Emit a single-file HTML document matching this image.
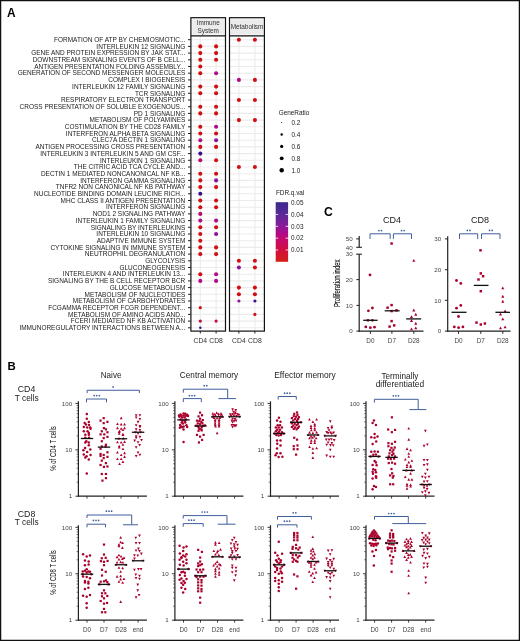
<!DOCTYPE html>
<html><head><meta charset="utf-8"><style>
html,body{margin:0;padding:0;background:#fff;}
svg{display:block;will-change:transform;}
text{font-family:"Liberation Sans", sans-serif;}
</style></head><body>
<svg width="520" height="641" viewBox="0 0 520 641">
<rect x="0" y="0" width="520" height="641" fill="#fff"/>
<text x="7.00" y="17.30" font-size="11.9" text-anchor="start" fill="#000" font-weight="bold" >A</text>
<rect x="190.90" y="35.80" width="34.60" height="295.30" fill="#fff" stroke="none" stroke-width="1" />
<line x1="190.90" y1="39.70" x2="225.50" y2="39.70" stroke="#ebebeb" stroke-width="1.1" />
<line x1="190.90" y1="46.40" x2="225.50" y2="46.40" stroke="#ebebeb" stroke-width="1.1" />
<line x1="190.90" y1="53.10" x2="225.50" y2="53.10" stroke="#ebebeb" stroke-width="1.1" />
<line x1="190.90" y1="59.80" x2="225.50" y2="59.80" stroke="#ebebeb" stroke-width="1.1" />
<line x1="190.90" y1="66.50" x2="225.50" y2="66.50" stroke="#ebebeb" stroke-width="1.1" />
<line x1="190.90" y1="73.20" x2="225.50" y2="73.20" stroke="#ebebeb" stroke-width="1.1" />
<line x1="190.90" y1="79.90" x2="225.50" y2="79.90" stroke="#ebebeb" stroke-width="1.1" />
<line x1="190.90" y1="86.60" x2="225.50" y2="86.60" stroke="#ebebeb" stroke-width="1.1" />
<line x1="190.90" y1="93.30" x2="225.50" y2="93.30" stroke="#ebebeb" stroke-width="1.1" />
<line x1="190.90" y1="100.00" x2="225.50" y2="100.00" stroke="#ebebeb" stroke-width="1.1" />
<line x1="190.90" y1="106.70" x2="225.50" y2="106.70" stroke="#ebebeb" stroke-width="1.1" />
<line x1="190.90" y1="113.40" x2="225.50" y2="113.40" stroke="#ebebeb" stroke-width="1.1" />
<line x1="190.90" y1="120.10" x2="225.50" y2="120.10" stroke="#ebebeb" stroke-width="1.1" />
<line x1="190.90" y1="126.80" x2="225.50" y2="126.80" stroke="#ebebeb" stroke-width="1.1" />
<line x1="190.90" y1="133.50" x2="225.50" y2="133.50" stroke="#ebebeb" stroke-width="1.1" />
<line x1="190.90" y1="140.20" x2="225.50" y2="140.20" stroke="#ebebeb" stroke-width="1.1" />
<line x1="190.90" y1="146.90" x2="225.50" y2="146.90" stroke="#ebebeb" stroke-width="1.1" />
<line x1="190.90" y1="153.60" x2="225.50" y2="153.60" stroke="#ebebeb" stroke-width="1.1" />
<line x1="190.90" y1="160.30" x2="225.50" y2="160.30" stroke="#ebebeb" stroke-width="1.1" />
<line x1="190.90" y1="167.00" x2="225.50" y2="167.00" stroke="#ebebeb" stroke-width="1.1" />
<line x1="190.90" y1="173.70" x2="225.50" y2="173.70" stroke="#ebebeb" stroke-width="1.1" />
<line x1="190.90" y1="180.40" x2="225.50" y2="180.40" stroke="#ebebeb" stroke-width="1.1" />
<line x1="190.90" y1="187.10" x2="225.50" y2="187.10" stroke="#ebebeb" stroke-width="1.1" />
<line x1="190.90" y1="193.80" x2="225.50" y2="193.80" stroke="#ebebeb" stroke-width="1.1" />
<line x1="190.90" y1="200.50" x2="225.50" y2="200.50" stroke="#ebebeb" stroke-width="1.1" />
<line x1="190.90" y1="207.20" x2="225.50" y2="207.20" stroke="#ebebeb" stroke-width="1.1" />
<line x1="190.90" y1="213.90" x2="225.50" y2="213.90" stroke="#ebebeb" stroke-width="1.1" />
<line x1="190.90" y1="220.60" x2="225.50" y2="220.60" stroke="#ebebeb" stroke-width="1.1" />
<line x1="190.90" y1="227.30" x2="225.50" y2="227.30" stroke="#ebebeb" stroke-width="1.1" />
<line x1="190.90" y1="234.00" x2="225.50" y2="234.00" stroke="#ebebeb" stroke-width="1.1" />
<line x1="190.90" y1="240.70" x2="225.50" y2="240.70" stroke="#ebebeb" stroke-width="1.1" />
<line x1="190.90" y1="247.40" x2="225.50" y2="247.40" stroke="#ebebeb" stroke-width="1.1" />
<line x1="190.90" y1="254.10" x2="225.50" y2="254.10" stroke="#ebebeb" stroke-width="1.1" />
<line x1="190.90" y1="260.80" x2="225.50" y2="260.80" stroke="#ebebeb" stroke-width="1.1" />
<line x1="190.90" y1="267.50" x2="225.50" y2="267.50" stroke="#ebebeb" stroke-width="1.1" />
<line x1="190.90" y1="274.20" x2="225.50" y2="274.20" stroke="#ebebeb" stroke-width="1.1" />
<line x1="190.90" y1="280.90" x2="225.50" y2="280.90" stroke="#ebebeb" stroke-width="1.1" />
<line x1="190.90" y1="287.60" x2="225.50" y2="287.60" stroke="#ebebeb" stroke-width="1.1" />
<line x1="190.90" y1="294.30" x2="225.50" y2="294.30" stroke="#ebebeb" stroke-width="1.1" />
<line x1="190.90" y1="301.00" x2="225.50" y2="301.00" stroke="#ebebeb" stroke-width="1.1" />
<line x1="190.90" y1="307.70" x2="225.50" y2="307.70" stroke="#ebebeb" stroke-width="1.1" />
<line x1="190.90" y1="314.40" x2="225.50" y2="314.40" stroke="#ebebeb" stroke-width="1.1" />
<line x1="190.90" y1="321.10" x2="225.50" y2="321.10" stroke="#ebebeb" stroke-width="1.1" />
<line x1="190.90" y1="327.80" x2="225.50" y2="327.80" stroke="#ebebeb" stroke-width="1.1" />
<line x1="200.30" y1="35.80" x2="200.30" y2="331.10" stroke="#ebebeb" stroke-width="1.1" />
<line x1="216.10" y1="35.80" x2="216.10" y2="331.10" stroke="#ebebeb" stroke-width="1.1" />
<rect x="229.50" y="35.80" width="34.90" height="295.30" fill="#fff" stroke="none" stroke-width="1" />
<line x1="229.50" y1="39.70" x2="264.40" y2="39.70" stroke="#ebebeb" stroke-width="1.1" />
<line x1="229.50" y1="46.40" x2="264.40" y2="46.40" stroke="#ebebeb" stroke-width="1.1" />
<line x1="229.50" y1="53.10" x2="264.40" y2="53.10" stroke="#ebebeb" stroke-width="1.1" />
<line x1="229.50" y1="59.80" x2="264.40" y2="59.80" stroke="#ebebeb" stroke-width="1.1" />
<line x1="229.50" y1="66.50" x2="264.40" y2="66.50" stroke="#ebebeb" stroke-width="1.1" />
<line x1="229.50" y1="73.20" x2="264.40" y2="73.20" stroke="#ebebeb" stroke-width="1.1" />
<line x1="229.50" y1="79.90" x2="264.40" y2="79.90" stroke="#ebebeb" stroke-width="1.1" />
<line x1="229.50" y1="86.60" x2="264.40" y2="86.60" stroke="#ebebeb" stroke-width="1.1" />
<line x1="229.50" y1="93.30" x2="264.40" y2="93.30" stroke="#ebebeb" stroke-width="1.1" />
<line x1="229.50" y1="100.00" x2="264.40" y2="100.00" stroke="#ebebeb" stroke-width="1.1" />
<line x1="229.50" y1="106.70" x2="264.40" y2="106.70" stroke="#ebebeb" stroke-width="1.1" />
<line x1="229.50" y1="113.40" x2="264.40" y2="113.40" stroke="#ebebeb" stroke-width="1.1" />
<line x1="229.50" y1="120.10" x2="264.40" y2="120.10" stroke="#ebebeb" stroke-width="1.1" />
<line x1="229.50" y1="126.80" x2="264.40" y2="126.80" stroke="#ebebeb" stroke-width="1.1" />
<line x1="229.50" y1="133.50" x2="264.40" y2="133.50" stroke="#ebebeb" stroke-width="1.1" />
<line x1="229.50" y1="140.20" x2="264.40" y2="140.20" stroke="#ebebeb" stroke-width="1.1" />
<line x1="229.50" y1="146.90" x2="264.40" y2="146.90" stroke="#ebebeb" stroke-width="1.1" />
<line x1="229.50" y1="153.60" x2="264.40" y2="153.60" stroke="#ebebeb" stroke-width="1.1" />
<line x1="229.50" y1="160.30" x2="264.40" y2="160.30" stroke="#ebebeb" stroke-width="1.1" />
<line x1="229.50" y1="167.00" x2="264.40" y2="167.00" stroke="#ebebeb" stroke-width="1.1" />
<line x1="229.50" y1="173.70" x2="264.40" y2="173.70" stroke="#ebebeb" stroke-width="1.1" />
<line x1="229.50" y1="180.40" x2="264.40" y2="180.40" stroke="#ebebeb" stroke-width="1.1" />
<line x1="229.50" y1="187.10" x2="264.40" y2="187.10" stroke="#ebebeb" stroke-width="1.1" />
<line x1="229.50" y1="193.80" x2="264.40" y2="193.80" stroke="#ebebeb" stroke-width="1.1" />
<line x1="229.50" y1="200.50" x2="264.40" y2="200.50" stroke="#ebebeb" stroke-width="1.1" />
<line x1="229.50" y1="207.20" x2="264.40" y2="207.20" stroke="#ebebeb" stroke-width="1.1" />
<line x1="229.50" y1="213.90" x2="264.40" y2="213.90" stroke="#ebebeb" stroke-width="1.1" />
<line x1="229.50" y1="220.60" x2="264.40" y2="220.60" stroke="#ebebeb" stroke-width="1.1" />
<line x1="229.50" y1="227.30" x2="264.40" y2="227.30" stroke="#ebebeb" stroke-width="1.1" />
<line x1="229.50" y1="234.00" x2="264.40" y2="234.00" stroke="#ebebeb" stroke-width="1.1" />
<line x1="229.50" y1="240.70" x2="264.40" y2="240.70" stroke="#ebebeb" stroke-width="1.1" />
<line x1="229.50" y1="247.40" x2="264.40" y2="247.40" stroke="#ebebeb" stroke-width="1.1" />
<line x1="229.50" y1="254.10" x2="264.40" y2="254.10" stroke="#ebebeb" stroke-width="1.1" />
<line x1="229.50" y1="260.80" x2="264.40" y2="260.80" stroke="#ebebeb" stroke-width="1.1" />
<line x1="229.50" y1="267.50" x2="264.40" y2="267.50" stroke="#ebebeb" stroke-width="1.1" />
<line x1="229.50" y1="274.20" x2="264.40" y2="274.20" stroke="#ebebeb" stroke-width="1.1" />
<line x1="229.50" y1="280.90" x2="264.40" y2="280.90" stroke="#ebebeb" stroke-width="1.1" />
<line x1="229.50" y1="287.60" x2="264.40" y2="287.60" stroke="#ebebeb" stroke-width="1.1" />
<line x1="229.50" y1="294.30" x2="264.40" y2="294.30" stroke="#ebebeb" stroke-width="1.1" />
<line x1="229.50" y1="301.00" x2="264.40" y2="301.00" stroke="#ebebeb" stroke-width="1.1" />
<line x1="229.50" y1="307.70" x2="264.40" y2="307.70" stroke="#ebebeb" stroke-width="1.1" />
<line x1="229.50" y1="314.40" x2="264.40" y2="314.40" stroke="#ebebeb" stroke-width="1.1" />
<line x1="229.50" y1="321.10" x2="264.40" y2="321.10" stroke="#ebebeb" stroke-width="1.1" />
<line x1="229.50" y1="327.80" x2="264.40" y2="327.80" stroke="#ebebeb" stroke-width="1.1" />
<line x1="238.90" y1="35.80" x2="238.90" y2="331.10" stroke="#ebebeb" stroke-width="1.1" />
<line x1="254.90" y1="35.80" x2="254.90" y2="331.10" stroke="#ebebeb" stroke-width="1.1" />
<circle cx="238.90" cy="39.70" r="2.05" fill="#cf0f12"/>
<circle cx="254.90" cy="39.70" r="2.05" fill="#cf0f12"/>
<circle cx="200.30" cy="46.40" r="2.05" fill="#cf0f12"/>
<circle cx="216.10" cy="46.40" r="2.05" fill="#cf0f12"/>
<circle cx="200.30" cy="53.10" r="2.05" fill="#cf0f12"/>
<circle cx="216.10" cy="53.10" r="2.05" fill="#cf0f12"/>
<circle cx="200.30" cy="59.80" r="2.05" fill="#cf0f12"/>
<circle cx="216.10" cy="59.80" r="2.05" fill="#cf0f12"/>
<circle cx="200.30" cy="66.50" r="2.05" fill="#cf0f12"/>
<circle cx="200.30" cy="73.20" r="2.05" fill="#cf0f12"/>
<circle cx="216.10" cy="73.20" r="2.05" fill="#b00c88"/>
<circle cx="238.90" cy="79.90" r="2.05" fill="#b00c88"/>
<circle cx="254.90" cy="79.90" r="2.05" fill="#cf0f12"/>
<circle cx="200.30" cy="86.60" r="2.05" fill="#cf0f12"/>
<circle cx="216.10" cy="86.60" r="2.05" fill="#cf0f12"/>
<circle cx="200.30" cy="93.30" r="2.05" fill="#cf0f12"/>
<circle cx="216.10" cy="93.30" r="2.05" fill="#cf0f12"/>
<circle cx="238.90" cy="100.00" r="2.05" fill="#cf0f12"/>
<circle cx="254.90" cy="100.00" r="2.05" fill="#cf0f12"/>
<circle cx="200.30" cy="106.70" r="2.05" fill="#cf0f12"/>
<circle cx="216.10" cy="106.70" r="2.05" fill="#cf0f12"/>
<circle cx="200.30" cy="113.40" r="2.05" fill="#cf0f12"/>
<circle cx="216.10" cy="113.40" r="2.05" fill="#cf0f12"/>
<circle cx="238.90" cy="120.10" r="2.05" fill="#cf0f12"/>
<circle cx="254.90" cy="120.10" r="2.05" fill="#cf0f12"/>
<circle cx="200.30" cy="126.80" r="2.05" fill="#cf0f12"/>
<circle cx="216.10" cy="126.80" r="2.05" fill="#b00c88"/>
<circle cx="200.30" cy="133.50" r="2.05" fill="#cf0f12"/>
<circle cx="216.10" cy="133.50" r="2.05" fill="#cf0f12"/>
<circle cx="200.30" cy="140.20" r="2.05" fill="#b00c88"/>
<circle cx="216.10" cy="140.20" r="2.05" fill="#8c1496"/>
<circle cx="200.30" cy="146.90" r="2.05" fill="#cf0f12"/>
<circle cx="216.10" cy="146.90" r="2.05" fill="#cf0f12"/>
<circle cx="200.30" cy="153.60" r="2.05" fill="#3a1088"/>
<circle cx="200.30" cy="160.30" r="2.05" fill="#b80c70"/>
<circle cx="216.10" cy="160.30" r="2.05" fill="#cf0f12"/>
<circle cx="238.90" cy="167.00" r="2.05" fill="#cf0f12"/>
<circle cx="254.90" cy="167.00" r="2.05" fill="#cf0f12"/>
<circle cx="200.30" cy="173.70" r="2.05" fill="#cf0f12"/>
<circle cx="216.10" cy="173.70" r="2.05" fill="#cf0f12"/>
<circle cx="200.30" cy="180.40" r="2.05" fill="#cf0f12"/>
<circle cx="216.10" cy="180.40" r="2.05" fill="#8c1496"/>
<circle cx="200.30" cy="187.10" r="2.05" fill="#cf0f12"/>
<circle cx="216.10" cy="187.10" r="2.05" fill="#cf0f12"/>
<circle cx="200.30" cy="193.80" r="2.05" fill="#3a1088"/>
<circle cx="200.30" cy="200.50" r="2.05" fill="#cf0f12"/>
<circle cx="216.10" cy="200.50" r="2.05" fill="#cf0f12"/>
<circle cx="200.30" cy="207.20" r="2.05" fill="#cf0f12"/>
<circle cx="216.10" cy="207.20" r="2.05" fill="#cf0f12"/>
<circle cx="200.30" cy="213.90" r="2.05" fill="#b80c70"/>
<circle cx="200.30" cy="220.60" r="2.05" fill="#b00c88"/>
<circle cx="216.10" cy="220.60" r="2.05" fill="#b00c88"/>
<circle cx="200.30" cy="227.30" r="2.05" fill="#cf0f12"/>
<circle cx="216.10" cy="227.30" r="2.05" fill="#cf0f12"/>
<circle cx="200.30" cy="234.00" r="2.05" fill="#cf0f12"/>
<circle cx="216.10" cy="234.00" r="2.05" fill="#8c1496"/>
<circle cx="200.30" cy="240.70" r="2.05" fill="#cf0f12"/>
<circle cx="200.30" cy="247.40" r="2.05" fill="#cf0f12"/>
<circle cx="216.10" cy="247.40" r="2.05" fill="#cf0f12"/>
<circle cx="200.30" cy="254.10" r="2.05" fill="#cf0f12"/>
<circle cx="216.10" cy="254.10" r="2.05" fill="#cf0f12"/>
<circle cx="238.90" cy="260.80" r="2.05" fill="#cf0f12"/>
<circle cx="254.90" cy="260.80" r="2.05" fill="#cf0f12"/>
<circle cx="238.90" cy="267.50" r="2.05" fill="#8c1496"/>
<circle cx="254.90" cy="267.50" r="2.05" fill="#cf0f12"/>
<circle cx="200.30" cy="274.20" r="2.05" fill="#cf0f12"/>
<circle cx="216.10" cy="274.20" r="2.05" fill="#b00c88"/>
<circle cx="200.30" cy="280.90" r="2.05" fill="#b00c88"/>
<circle cx="216.10" cy="280.90" r="2.05" fill="#b00c88"/>
<circle cx="238.90" cy="287.60" r="2.05" fill="#cf0f12"/>
<circle cx="254.90" cy="287.60" r="2.05" fill="#cf0f12"/>
<circle cx="238.90" cy="294.30" r="2.05" fill="#cf0f12"/>
<circle cx="254.90" cy="294.30" r="2.05" fill="#cf0f12"/>
<circle cx="238.90" cy="301.00" r="1.60" fill="#8c1496"/>
<circle cx="254.90" cy="301.00" r="1.60" fill="#3a1088"/>
<circle cx="200.30" cy="307.70" r="1.60" fill="#cf0f12"/>
<circle cx="254.90" cy="314.40" r="1.60" fill="#cf0f12"/>
<circle cx="200.30" cy="321.10" r="1.60" fill="#c40c3c"/>
<circle cx="216.10" cy="321.10" r="1.60" fill="#c40c3c"/>
<circle cx="200.30" cy="327.80" r="1.25" fill="#3a1088"/>
<rect x="190.90" y="17.70" width="34.60" height="18.10" fill="#fafafa" stroke="none" stroke-width="1" />
<rect x="192.40" y="19.30" width="31.60" height="15.10" fill="#ebebeb" stroke="none" stroke-width="1" />
<rect x="190.90" y="17.70" width="34.60" height="313.40" fill="none" stroke="#111" stroke-width="1.2" />
<line x1="190.90" y1="35.80" x2="225.50" y2="35.80" stroke="#111" stroke-width="1.2" />
<rect x="229.50" y="17.70" width="34.90" height="18.10" fill="#fafafa" stroke="none" stroke-width="1" />
<rect x="231.00" y="19.30" width="31.90" height="15.10" fill="#ebebeb" stroke="none" stroke-width="1" />
<rect x="229.50" y="17.70" width="34.90" height="313.40" fill="none" stroke="#111" stroke-width="1.2" />
<line x1="229.50" y1="35.80" x2="264.40" y2="35.80" stroke="#111" stroke-width="1.2" />
<text x="208.20" y="24.60" font-size="6.4" text-anchor="middle" fill="#333" >Immune</text>
<text x="208.20" y="33.00" font-size="6.4" text-anchor="middle" fill="#333" >System</text>
<text x="247.00" y="28.80" font-size="6.4" text-anchor="middle" fill="#333" >Metabolism</text>
<text x="185.30" y="41.90" font-size="7.2" text-anchor="end" fill="#1a1a1a" textLength="131.29" lengthAdjust="spacingAndGlyphs" >FORMATION OF ATP BY CHEMIOSMOTIC...</text>
<line x1="188.00" y1="39.70" x2="190.90" y2="39.70" stroke="#222" stroke-width="1.0" />
<text x="185.30" y="48.60" font-size="7.2" text-anchor="end" fill="#1a1a1a" textLength="88.95" lengthAdjust="spacingAndGlyphs" >INTERLEUKIN 12 SIGNALING</text>
<line x1="188.00" y1="46.40" x2="190.90" y2="46.40" stroke="#222" stroke-width="1.0" />
<text x="185.30" y="55.30" font-size="7.2" text-anchor="end" fill="#1a1a1a" textLength="154.12" lengthAdjust="spacingAndGlyphs" >GENE AND PROTEIN EXPRESSION BY JAK STAT...</text>
<line x1="188.00" y1="53.10" x2="190.90" y2="53.10" stroke="#222" stroke-width="1.0" />
<text x="185.30" y="62.00" font-size="7.2" text-anchor="end" fill="#1a1a1a" textLength="152.67" lengthAdjust="spacingAndGlyphs" >DOWNSTREAM SIGNALING EVENTS OF B CELL...</text>
<line x1="188.00" y1="59.80" x2="190.90" y2="59.80" stroke="#222" stroke-width="1.0" />
<text x="185.30" y="68.70" font-size="7.2" text-anchor="end" fill="#1a1a1a" textLength="151.12" lengthAdjust="spacingAndGlyphs" >ANTIGEN PRESENTATION FOLDING ASSEMBLY...</text>
<line x1="188.00" y1="66.50" x2="190.90" y2="66.50" stroke="#222" stroke-width="1.0" />
<text x="185.30" y="75.40" font-size="7.2" text-anchor="end" fill="#1a1a1a" textLength="167.67" lengthAdjust="spacingAndGlyphs" >GENERATION OF SECOND MESSENGER MOLECULES</text>
<line x1="188.00" y1="73.20" x2="190.90" y2="73.20" stroke="#222" stroke-width="1.0" />
<text x="185.30" y="82.10" font-size="7.2" text-anchor="end" fill="#1a1a1a" textLength="77.06" lengthAdjust="spacingAndGlyphs" >COMPLEX I BIOGENESIS</text>
<line x1="188.00" y1="79.90" x2="190.90" y2="79.90" stroke="#222" stroke-width="1.0" />
<text x="185.30" y="88.80" font-size="7.2" text-anchor="end" fill="#1a1a1a" textLength="113.20" lengthAdjust="spacingAndGlyphs" >INTERLEUKIN 12 FAMILY SIGNALING</text>
<line x1="188.00" y1="86.60" x2="190.90" y2="86.60" stroke="#222" stroke-width="1.0" />
<text x="185.30" y="95.50" font-size="7.2" text-anchor="end" fill="#1a1a1a" textLength="50.41" lengthAdjust="spacingAndGlyphs" >TCR SIGNALING</text>
<line x1="188.00" y1="93.30" x2="190.90" y2="93.30" stroke="#222" stroke-width="1.0" />
<text x="185.30" y="102.20" font-size="7.2" text-anchor="end" fill="#1a1a1a" textLength="124.23" lengthAdjust="spacingAndGlyphs" >RESPIRATORY ELECTRON TRANSPORT</text>
<line x1="188.00" y1="100.00" x2="190.90" y2="100.00" stroke="#222" stroke-width="1.0" />
<text x="185.30" y="108.90" font-size="7.2" text-anchor="end" fill="#1a1a1a" textLength="165.76" lengthAdjust="spacingAndGlyphs" >CROSS PRESENTATION OF SOLUBLE EXOGENOUS...</text>
<line x1="188.00" y1="106.70" x2="190.90" y2="106.70" stroke="#222" stroke-width="1.0" />
<text x="185.30" y="115.60" font-size="7.2" text-anchor="end" fill="#1a1a1a" textLength="51.50" lengthAdjust="spacingAndGlyphs" >PD 1 SIGNALING</text>
<line x1="188.00" y1="113.40" x2="190.90" y2="113.40" stroke="#222" stroke-width="1.0" />
<text x="185.30" y="122.30" font-size="7.2" text-anchor="end" fill="#1a1a1a" textLength="95.78" lengthAdjust="spacingAndGlyphs" >METABOLISM OF POLYAMINES</text>
<line x1="188.00" y1="120.10" x2="190.90" y2="120.10" stroke="#222" stroke-width="1.0" />
<text x="185.30" y="129.00" font-size="7.2" text-anchor="end" fill="#1a1a1a" textLength="120.51" lengthAdjust="spacingAndGlyphs" >COSTIMULATION BY THE CD28 FAMILY</text>
<line x1="188.00" y1="126.80" x2="190.90" y2="126.80" stroke="#222" stroke-width="1.0" />
<text x="185.30" y="135.70" font-size="7.2" text-anchor="end" fill="#1a1a1a" textLength="119.43" lengthAdjust="spacingAndGlyphs" >INTERFERON ALPHA BETA SIGNALING</text>
<line x1="188.00" y1="133.50" x2="190.90" y2="133.50" stroke="#222" stroke-width="1.0" />
<text x="185.30" y="142.40" font-size="7.2" text-anchor="end" fill="#1a1a1a" textLength="93.27" lengthAdjust="spacingAndGlyphs" >CLEC7A DECTIN 1 SIGNALING</text>
<line x1="188.00" y1="140.20" x2="190.90" y2="140.20" stroke="#222" stroke-width="1.0" />
<text x="185.30" y="149.10" font-size="7.2" text-anchor="end" fill="#1a1a1a" textLength="149.90" lengthAdjust="spacingAndGlyphs" >ANTIGEN PROCESSING CROSS PRESENTATION</text>
<line x1="188.00" y1="146.90" x2="190.90" y2="146.90" stroke="#222" stroke-width="1.0" />
<text x="185.30" y="155.80" font-size="7.2" text-anchor="end" fill="#1a1a1a" textLength="145.11" lengthAdjust="spacingAndGlyphs" >INTERLEUKIN 3 INTERLEUKIN 5 AND GM CSF...</text>
<line x1="188.00" y1="153.60" x2="190.90" y2="153.60" stroke="#222" stroke-width="1.0" />
<text x="185.30" y="162.50" font-size="7.2" text-anchor="end" fill="#1a1a1a" textLength="85.34" lengthAdjust="spacingAndGlyphs" >INTERLEUKIN 1 SIGNALING</text>
<line x1="188.00" y1="160.30" x2="190.90" y2="160.30" stroke="#222" stroke-width="1.0" />
<text x="185.30" y="169.20" font-size="7.2" text-anchor="end" fill="#1a1a1a" textLength="111.50" lengthAdjust="spacingAndGlyphs" >THE CITRIC ACID TCA CYCLE AND...</text>
<line x1="188.00" y1="167.00" x2="190.90" y2="167.00" stroke="#222" stroke-width="1.0" />
<text x="185.30" y="175.90" font-size="7.2" text-anchor="end" fill="#1a1a1a" textLength="144.38" lengthAdjust="spacingAndGlyphs" >DECTIN 1 MEDIATED NONCANONICAL NF KB...</text>
<line x1="188.00" y1="173.70" x2="190.90" y2="173.70" stroke="#222" stroke-width="1.0" />
<text x="185.30" y="182.60" font-size="7.2" text-anchor="end" fill="#1a1a1a" textLength="105.13" lengthAdjust="spacingAndGlyphs" >INTERFERON GAMMA SIGNALING</text>
<line x1="188.00" y1="180.40" x2="190.90" y2="180.40" stroke="#222" stroke-width="1.0" />
<text x="185.30" y="189.30" font-size="7.2" text-anchor="end" fill="#1a1a1a" textLength="129.49" lengthAdjust="spacingAndGlyphs" >TNFR2 NON CANONICAL NF KB PATHWAY</text>
<line x1="188.00" y1="187.10" x2="190.90" y2="187.10" stroke="#222" stroke-width="1.0" />
<text x="185.30" y="196.00" font-size="7.2" text-anchor="end" fill="#1a1a1a" textLength="151.22" lengthAdjust="spacingAndGlyphs" >NUCLEOTIDE BINDING DOMAIN LEUCINE RICH...</text>
<line x1="188.00" y1="193.80" x2="190.90" y2="193.80" stroke="#222" stroke-width="1.0" />
<text x="185.30" y="202.70" font-size="7.2" text-anchor="end" fill="#1a1a1a" textLength="124.70" lengthAdjust="spacingAndGlyphs" >MHC CLASS II ANTIGEN PRESENTATION</text>
<line x1="188.00" y1="200.50" x2="190.90" y2="200.50" stroke="#222" stroke-width="1.0" />
<text x="185.30" y="209.40" font-size="7.2" text-anchor="end" fill="#1a1a1a" textLength="79.21" lengthAdjust="spacingAndGlyphs" >INTERFERON SIGNALING</text>
<line x1="188.00" y1="207.20" x2="190.90" y2="207.20" stroke="#222" stroke-width="1.0" />
<text x="185.30" y="216.10" font-size="7.2" text-anchor="end" fill="#1a1a1a" textLength="92.66" lengthAdjust="spacingAndGlyphs" >NOD1 2 SIGNALING PATHWAY</text>
<line x1="188.00" y1="213.90" x2="190.90" y2="213.90" stroke="#222" stroke-width="1.0" />
<text x="185.30" y="222.80" font-size="7.2" text-anchor="end" fill="#1a1a1a" textLength="109.59" lengthAdjust="spacingAndGlyphs" >INTERLEUKIN 1 FAMILY SIGNALING</text>
<line x1="188.00" y1="220.60" x2="190.90" y2="220.60" stroke="#222" stroke-width="1.0" />
<text x="185.30" y="229.50" font-size="7.2" text-anchor="end" fill="#1a1a1a" textLength="94.59" lengthAdjust="spacingAndGlyphs" >SIGNALING BY INTERLEUKINS</text>
<line x1="188.00" y1="227.30" x2="190.90" y2="227.30" stroke="#222" stroke-width="1.0" />
<text x="185.30" y="236.20" font-size="7.2" text-anchor="end" fill="#1a1a1a" textLength="88.95" lengthAdjust="spacingAndGlyphs" >INTERLEUKIN 10 SIGNALING</text>
<line x1="188.00" y1="234.00" x2="190.90" y2="234.00" stroke="#222" stroke-width="1.0" />
<text x="185.30" y="242.90" font-size="7.2" text-anchor="end" fill="#1a1a1a" textLength="88.58" lengthAdjust="spacingAndGlyphs" >ADAPTIVE IMMUNE SYSTEM</text>
<line x1="188.00" y1="240.70" x2="190.90" y2="240.70" stroke="#222" stroke-width="1.0" />
<text x="185.30" y="249.60" font-size="7.2" text-anchor="end" fill="#1a1a1a" textLength="134.90" lengthAdjust="spacingAndGlyphs" >CYTOKINE SIGNALING IN IMMUNE SYSTEM</text>
<line x1="188.00" y1="247.40" x2="190.90" y2="247.40" stroke="#222" stroke-width="1.0" />
<text x="185.30" y="256.30" font-size="7.2" text-anchor="end" fill="#1a1a1a" textLength="100.45" lengthAdjust="spacingAndGlyphs" >NEUTROPHIL  DEGRANULATION</text>
<line x1="188.00" y1="254.10" x2="190.90" y2="254.10" stroke="#222" stroke-width="1.0" />
<text x="185.30" y="263.00" font-size="7.2" text-anchor="end" fill="#1a1a1a" textLength="40.10" lengthAdjust="spacingAndGlyphs" >GLYCOLYSIS</text>
<line x1="188.00" y1="260.80" x2="190.90" y2="260.80" stroke="#222" stroke-width="1.0" />
<text x="185.30" y="269.70" font-size="7.2" text-anchor="end" fill="#1a1a1a" textLength="65.90" lengthAdjust="spacingAndGlyphs" >GLUCONEOGENESIS</text>
<line x1="188.00" y1="267.50" x2="190.90" y2="267.50" stroke="#222" stroke-width="1.0" />
<text x="185.30" y="276.40" font-size="7.2" text-anchor="end" fill="#1a1a1a" textLength="122.44" lengthAdjust="spacingAndGlyphs" >INTERLEUKIN 4 AND INTERLEUKIN 13...</text>
<line x1="188.00" y1="274.20" x2="190.90" y2="274.20" stroke="#222" stroke-width="1.0" />
<text x="185.30" y="283.10" font-size="7.2" text-anchor="end" fill="#1a1a1a" textLength="137.32" lengthAdjust="spacingAndGlyphs" >SIGNALING BY THE B CELL RECEPTOR BCR</text>
<line x1="188.00" y1="280.90" x2="190.90" y2="280.90" stroke="#222" stroke-width="1.0" />
<text x="185.30" y="289.80" font-size="7.2" text-anchor="end" fill="#1a1a1a" textLength="75.50" lengthAdjust="spacingAndGlyphs" >GLUCOSE METABOLISM</text>
<line x1="188.00" y1="287.60" x2="190.90" y2="287.60" stroke="#222" stroke-width="1.0" />
<text x="185.30" y="296.50" font-size="7.2" text-anchor="end" fill="#1a1a1a" textLength="100.70" lengthAdjust="spacingAndGlyphs" >METABOLISM OF NUCLEOTIDES</text>
<line x1="188.00" y1="294.30" x2="190.90" y2="294.30" stroke="#222" stroke-width="1.0" />
<text x="185.30" y="303.20" font-size="7.2" text-anchor="end" fill="#1a1a1a" textLength="112.46" lengthAdjust="spacingAndGlyphs" >METABOLISM OF CARBOHYDRATES</text>
<line x1="188.00" y1="301.00" x2="190.90" y2="301.00" stroke="#222" stroke-width="1.0" />
<text x="185.30" y="309.90" font-size="7.2" text-anchor="end" fill="#1a1a1a" textLength="137.06" lengthAdjust="spacingAndGlyphs" >FCGAMMA RECEPTOR FCGR DEPENDENT...</text>
<line x1="188.00" y1="307.70" x2="190.90" y2="307.70" stroke="#222" stroke-width="1.0" />
<text x="185.30" y="316.60" font-size="7.2" text-anchor="end" fill="#1a1a1a" textLength="117.26" lengthAdjust="spacingAndGlyphs" >METABOLISM OF AMINO ACIDS AND...</text>
<line x1="188.00" y1="314.40" x2="190.90" y2="314.40" stroke="#222" stroke-width="1.0" />
<text x="185.30" y="323.30" font-size="7.2" text-anchor="end" fill="#1a1a1a" textLength="114.49" lengthAdjust="spacingAndGlyphs" >FCERI MEDIATED NF KB ACTIVATION</text>
<line x1="188.00" y1="321.10" x2="190.90" y2="321.10" stroke="#222" stroke-width="1.0" />
<text x="185.30" y="330.00" font-size="7.2" text-anchor="end" fill="#1a1a1a" textLength="165.87" lengthAdjust="spacingAndGlyphs" >IMMUNOREGULATORY INTERACTIONS BETWEEN A...</text>
<line x1="188.00" y1="327.80" x2="190.90" y2="327.80" stroke="#222" stroke-width="1.0" />
<line x1="200.30" y1="331.10" x2="200.30" y2="333.50" stroke="#222" stroke-width="1.0" />
<line x1="216.10" y1="331.10" x2="216.10" y2="333.50" stroke="#222" stroke-width="1.0" />
<line x1="238.90" y1="331.10" x2="238.90" y2="333.50" stroke="#222" stroke-width="1.0" />
<line x1="254.90" y1="331.10" x2="254.90" y2="333.50" stroke="#222" stroke-width="1.0" />
<text x="200.30" y="342.80" font-size="6.8" text-anchor="middle" fill="#333" >CD4</text>
<text x="216.10" y="342.80" font-size="6.8" text-anchor="middle" fill="#333" >CD8</text>
<text x="238.90" y="342.80" font-size="6.8" text-anchor="middle" fill="#333" >CD4</text>
<text x="254.90" y="342.80" font-size="6.8" text-anchor="middle" fill="#333" >CD8</text>
<text x="278.70" y="114.60" font-size="6.4" text-anchor="start" fill="#1a1a1a" >GeneRatio</text>
<circle cx="281.70" cy="122.50" r="0.50" fill="#000"/>
<text x="291.40" y="124.80" font-size="6.4" text-anchor="start" fill="#222" >0.2</text>
<circle cx="281.70" cy="134.45" r="1.20" fill="#000"/>
<text x="291.40" y="136.75" font-size="6.4" text-anchor="start" fill="#222" >0.4</text>
<circle cx="281.70" cy="146.40" r="1.60" fill="#000"/>
<text x="291.40" y="148.70" font-size="6.4" text-anchor="start" fill="#222" >0.6</text>
<circle cx="281.70" cy="158.35" r="1.90" fill="#000"/>
<text x="291.40" y="160.65" font-size="6.4" text-anchor="start" fill="#222" >0.8</text>
<circle cx="281.70" cy="170.30" r="2.20" fill="#000"/>
<text x="291.40" y="172.60" font-size="6.4" text-anchor="start" fill="#222" >1.0</text>
<text x="275.90" y="194.50" font-size="6.4" text-anchor="start" fill="#1a1a1a" >FDR.q.val</text>
<defs><linearGradient id="cb" x1="0" y1="0" x2="0" y2="1"><stop offset="0" stop-color="#3b2a8c"/><stop offset="0.2" stop-color="#5a2a98"/><stop offset="0.4" stop-color="#8a1a98"/><stop offset="0.52" stop-color="#b00888"/><stop offset="0.62" stop-color="#c40a6e"/><stop offset="0.8" stop-color="#d20e3e"/><stop offset="1" stop-color="#d42018"/></linearGradient></defs>
<rect x="275.70" y="202.20" width="12.40" height="59.60" fill="url(#cb)" stroke="none" stroke-width="1" />
<text x="291.00" y="204.90" font-size="6.4" text-anchor="start" fill="#222" >0.05</text>
<line x1="275.70" y1="214.45" x2="278.20" y2="214.45" stroke="#fff" stroke-width="0.8" />
<line x1="285.60" y1="214.45" x2="288.10" y2="214.45" stroke="#fff" stroke-width="0.8" />
<text x="291.00" y="216.75" font-size="6.4" text-anchor="start" fill="#222" >0.04</text>
<line x1="275.70" y1="226.30" x2="278.20" y2="226.30" stroke="#fff" stroke-width="0.8" />
<line x1="285.60" y1="226.30" x2="288.10" y2="226.30" stroke="#fff" stroke-width="0.8" />
<text x="291.00" y="228.60" font-size="6.4" text-anchor="start" fill="#222" >0.03</text>
<line x1="275.70" y1="238.15" x2="278.20" y2="238.15" stroke="#fff" stroke-width="0.8" />
<line x1="285.60" y1="238.15" x2="288.10" y2="238.15" stroke="#fff" stroke-width="0.8" />
<text x="291.00" y="240.45" font-size="6.4" text-anchor="start" fill="#222" >0.02</text>
<line x1="275.70" y1="250.00" x2="278.20" y2="250.00" stroke="#fff" stroke-width="0.8" />
<line x1="285.60" y1="250.00" x2="288.10" y2="250.00" stroke="#fff" stroke-width="0.8" />
<text x="291.00" y="252.30" font-size="6.4" text-anchor="start" fill="#222" >0.01</text>
<text x="324.00" y="216.20" font-size="12.2" text-anchor="start" fill="#000" font-weight="bold" >C</text>
<text x="391.90" y="223.20" font-size="9.0" text-anchor="middle" fill="#1a1a1a" >CD4</text>
<line x1="359.20" y1="236.10" x2="359.20" y2="247.30" stroke="#222" stroke-width="1.2" />
<line x1="356.20" y1="247.30" x2="361.90" y2="247.30" stroke="#222" stroke-width="1.1" />
<line x1="356.20" y1="238.90" x2="359.20" y2="238.90" stroke="#222" stroke-width="1.0" />
<line x1="359.20" y1="254.20" x2="359.20" y2="331.70" stroke="#222" stroke-width="1.2" />
<line x1="356.20" y1="254.20" x2="361.90" y2="254.20" stroke="#222" stroke-width="1.1" />
<text x="352.60" y="241.10" font-size="6.2" text-anchor="end" fill="#444" >50</text>
<text x="352.60" y="249.50" font-size="6.2" text-anchor="end" fill="#444" >40</text>
<text x="352.60" y="256.40" font-size="6.2" text-anchor="end" fill="#444" >30</text>
<line x1="356.40" y1="279.60" x2="359.20" y2="279.60" stroke="#222" stroke-width="1.0" />
<text x="352.60" y="281.80" font-size="6.2" text-anchor="end" fill="#444" >20</text>
<line x1="356.40" y1="305.40" x2="359.20" y2="305.40" stroke="#222" stroke-width="1.0" />
<text x="352.60" y="307.60" font-size="6.2" text-anchor="end" fill="#444" >10</text>
<line x1="356.40" y1="331.10" x2="359.20" y2="331.10" stroke="#222" stroke-width="1.0" />
<text x="352.60" y="333.30" font-size="6.2" text-anchor="end" fill="#444" >0</text>
<line x1="358.60" y1="331.10" x2="423.50" y2="331.10" stroke="#222" stroke-width="1.2" />
<line x1="370.40" y1="331.10" x2="370.40" y2="333.80" stroke="#222" stroke-width="1.0" />
<text x="370.40" y="343.40" font-size="6.4" text-anchor="middle" fill="#444" >D0</text>
<line x1="391.90" y1="331.10" x2="391.90" y2="333.80" stroke="#222" stroke-width="1.0" />
<text x="391.90" y="343.40" font-size="6.4" text-anchor="middle" fill="#444" >D7</text>
<line x1="413.80" y1="331.10" x2="413.80" y2="333.80" stroke="#222" stroke-width="1.0" />
<text x="413.80" y="343.40" font-size="6.4" text-anchor="middle" fill="#444" >D28</text>
<text x="0.00" y="0.00" font-size="8.8" text-anchor="middle" fill="#111" textLength="47.60" lengthAdjust="spacingAndGlyphs" stroke="#111" stroke-width="0.15" transform="translate(340.3,283.3) rotate(-90)">Proliferation index</text>
<circle cx="370.00" cy="274.90" r="1.40" fill="#aa002c"/>
<circle cx="368.40" cy="310.80" r="1.40" fill="#aa002c"/>
<circle cx="372.40" cy="308.00" r="1.40" fill="#aa002c"/>
<circle cx="368.00" cy="320.30" r="1.40" fill="#aa002c"/>
<circle cx="372.40" cy="320.30" r="1.40" fill="#aa002c"/>
<circle cx="365.80" cy="326.90" r="1.40" fill="#aa002c"/>
<circle cx="370.40" cy="327.70" r="1.40" fill="#aa002c"/>
<circle cx="374.50" cy="327.20" r="1.40" fill="#aa002c"/>
<rect x="390.37" y="242.27" width="2.46" height="2.46" fill="#aa002c"/>
<rect x="390.37" y="303.87" width="2.46" height="2.46" fill="#aa002c"/>
<rect x="386.37" y="306.47" width="2.46" height="2.46" fill="#aa002c"/>
<rect x="390.37" y="309.87" width="2.46" height="2.46" fill="#aa002c"/>
<rect x="395.27" y="309.07" width="2.46" height="2.46" fill="#aa002c"/>
<rect x="390.37" y="319.87" width="2.46" height="2.46" fill="#aa002c"/>
<rect x="388.37" y="325.37" width="2.46" height="2.46" fill="#aa002c"/>
<rect x="392.97" y="324.17" width="2.46" height="2.46" fill="#aa002c"/>
<polygon points="413.80,258.94 415.34,261.87 412.26,261.87" fill="#aa002c"/>
<polygon points="413.80,308.54 415.34,311.47 412.26,311.47" fill="#aa002c"/>
<polygon points="411.50,315.14 413.04,318.07 409.96,318.07" fill="#aa002c"/>
<polygon points="415.80,312.84 417.34,315.77 414.26,315.77" fill="#aa002c"/>
<polygon points="411.50,319.04 413.04,321.97 409.96,321.97" fill="#aa002c"/>
<polygon points="415.80,321.74 417.34,324.67 414.26,324.67" fill="#aa002c"/>
<polygon points="411.50,327.44 413.04,330.37 409.96,330.37" fill="#aa002c"/>
<polygon points="415.80,326.44 417.34,329.37 414.26,329.37" fill="#aa002c"/>
<line x1="363.20" y1="320.30" x2="377.60" y2="320.30" stroke="#111" stroke-width="1.3" />
<line x1="384.70" y1="310.80" x2="399.60" y2="310.80" stroke="#111" stroke-width="1.3" />
<line x1="406.20" y1="318.90" x2="421.20" y2="318.90" stroke="#111" stroke-width="1.3" />
<polyline points="370.00,238.90 370.00,233.80 390.20,233.80 390.20,238.90" fill="none" stroke="#3f5e9c" stroke-width="1.0"/>
<polyline points="393.40,238.90 393.40,233.80 411.50,233.80 411.50,238.90" fill="none" stroke="#3f5e9c" stroke-width="1.0"/>
<circle cx="378.90" cy="230.60" r="0.85" fill="#3f5e9c"/>
<circle cx="381.50" cy="230.60" r="0.85" fill="#3f5e9c"/>
<circle cx="401.50" cy="230.60" r="0.85" fill="#3f5e9c"/>
<circle cx="404.10" cy="230.60" r="0.85" fill="#3f5e9c"/>
<text x="480.00" y="223.30" font-size="9.0" text-anchor="middle" fill="#1a1a1a" >CD8</text>
<line x1="447.70" y1="236.30" x2="447.70" y2="331.70" stroke="#222" stroke-width="1.2" />
<line x1="444.90" y1="238.90" x2="447.70" y2="238.90" stroke="#222" stroke-width="1.0" />
<text x="441.20" y="241.10" font-size="6.2" text-anchor="end" fill="#444" >30</text>
<line x1="444.90" y1="269.70" x2="447.70" y2="269.70" stroke="#222" stroke-width="1.0" />
<text x="441.20" y="271.90" font-size="6.2" text-anchor="end" fill="#444" >20</text>
<line x1="444.90" y1="300.30" x2="447.70" y2="300.30" stroke="#222" stroke-width="1.0" />
<text x="441.20" y="302.50" font-size="6.2" text-anchor="end" fill="#444" >10</text>
<line x1="444.90" y1="331.10" x2="447.70" y2="331.10" stroke="#222" stroke-width="1.0" />
<text x="441.20" y="333.30" font-size="6.2" text-anchor="end" fill="#444" >0</text>
<line x1="447.10" y1="331.10" x2="510.50" y2="331.10" stroke="#222" stroke-width="1.2" />
<line x1="458.50" y1="331.10" x2="458.50" y2="333.80" stroke="#222" stroke-width="1.0" />
<text x="458.50" y="343.40" font-size="6.4" text-anchor="middle" fill="#444" >D0</text>
<line x1="480.80" y1="331.10" x2="480.80" y2="333.80" stroke="#222" stroke-width="1.0" />
<text x="480.80" y="343.40" font-size="6.4" text-anchor="middle" fill="#444" >D7</text>
<line x1="502.80" y1="331.10" x2="502.80" y2="333.80" stroke="#222" stroke-width="1.0" />
<text x="502.80" y="343.40" font-size="6.4" text-anchor="middle" fill="#444" >D28</text>
<circle cx="456.50" cy="280.50" r="1.40" fill="#aa002c"/>
<circle cx="460.80" cy="283.40" r="1.40" fill="#aa002c"/>
<circle cx="460.80" cy="305.40" r="1.40" fill="#aa002c"/>
<circle cx="456.50" cy="308.20" r="1.40" fill="#aa002c"/>
<circle cx="458.50" cy="316.50" r="1.40" fill="#aa002c"/>
<circle cx="454.30" cy="326.90" r="1.40" fill="#aa002c"/>
<circle cx="458.60" cy="327.70" r="1.40" fill="#aa002c"/>
<circle cx="462.90" cy="326.90" r="1.40" fill="#aa002c"/>
<rect x="479.27" y="249.07" width="2.46" height="2.46" fill="#aa002c"/>
<rect x="479.57" y="272.17" width="2.46" height="2.46" fill="#aa002c"/>
<rect x="481.87" y="274.97" width="2.46" height="2.46" fill="#aa002c"/>
<rect x="477.27" y="278.27" width="2.46" height="2.46" fill="#aa002c"/>
<rect x="479.57" y="289.97" width="2.46" height="2.46" fill="#aa002c"/>
<rect x="475.27" y="321.37" width="2.46" height="2.46" fill="#aa002c"/>
<rect x="479.57" y="323.27" width="2.46" height="2.46" fill="#aa002c"/>
<rect x="483.67" y="322.27" width="2.46" height="2.46" fill="#aa002c"/>
<polygon points="502.80,286.44 504.34,289.37 501.26,289.37" fill="#aa002c"/>
<polygon points="502.80,294.74 504.34,297.67 501.26,297.67" fill="#aa002c"/>
<polygon points="502.80,299.74 504.34,302.67 501.26,302.67" fill="#aa002c"/>
<polygon points="505.10,309.44 506.64,312.37 503.56,312.37" fill="#aa002c"/>
<polygon points="500.50,312.54 502.04,315.47 498.96,315.47" fill="#aa002c"/>
<polygon points="502.80,317.44 504.34,320.37 501.26,320.37" fill="#aa002c"/>
<polygon points="500.50,326.44 502.04,329.37 498.96,329.37" fill="#aa002c"/>
<polygon points="505.10,325.44 506.64,328.37 503.56,328.37" fill="#aa002c"/>
<line x1="451.50" y1="312.30" x2="466.50" y2="312.30" stroke="#111" stroke-width="1.3" />
<line x1="473.80" y1="285.40" x2="488.50" y2="285.40" stroke="#111" stroke-width="1.3" />
<line x1="495.40" y1="312.30" x2="510.00" y2="312.30" stroke="#111" stroke-width="1.3" />
<polyline points="459.50,238.90 459.50,233.80 477.70,233.80 477.70,238.90" fill="none" stroke="#3f5e9c" stroke-width="1.0"/>
<polyline points="481.50,238.90 481.50,233.80 500.00,233.80 500.00,238.90" fill="none" stroke="#3f5e9c" stroke-width="1.0"/>
<circle cx="467.30" cy="230.40" r="0.85" fill="#3f5e9c"/>
<circle cx="469.90" cy="230.40" r="0.85" fill="#3f5e9c"/>
<circle cx="489.50" cy="230.40" r="0.85" fill="#3f5e9c"/>
<circle cx="492.10" cy="230.40" r="0.85" fill="#3f5e9c"/>
<text x="7.60" y="370.30" font-size="11.4" text-anchor="start" fill="#000" font-weight="bold" >B</text>
<text x="111.10" y="378.40" font-size="8.4" text-anchor="middle" fill="#222" textLength="20.62" lengthAdjust="spacingAndGlyphs" >Naive</text>
<text x="209.00" y="378.40" font-size="8.4" text-anchor="middle" fill="#222" textLength="58.26" lengthAdjust="spacingAndGlyphs" >Central memory</text>
<text x="305.00" y="378.40" font-size="8.4" text-anchor="middle" fill="#222" textLength="61.46" lengthAdjust="spacingAndGlyphs" >Effector memory</text>
<text x="399.90" y="378.60" font-size="8.4" text-anchor="middle" fill="#222" textLength="37.05" lengthAdjust="spacingAndGlyphs" >Terminally</text>
<text x="399.90" y="387.00" font-size="8.4" text-anchor="middle" fill="#222" textLength="48.42" lengthAdjust="spacingAndGlyphs" >differentiated</text>
<text x="26.50" y="392.30" font-size="8.6" text-anchor="middle" fill="#1a1a1a" textLength="17.55" lengthAdjust="spacingAndGlyphs" >CD4</text>
<text x="26.70" y="400.90" font-size="8.6" text-anchor="middle" fill="#1a1a1a" textLength="23.95" lengthAdjust="spacingAndGlyphs" >T cells</text>
<text x="26.50" y="516.50" font-size="8.6" text-anchor="middle" fill="#1a1a1a" textLength="17.55" lengthAdjust="spacingAndGlyphs" >CD8</text>
<text x="26.70" y="525.10" font-size="8.6" text-anchor="middle" fill="#1a1a1a" textLength="23.95" lengthAdjust="spacingAndGlyphs" >T cells</text>
<line x1="78.40" y1="401.30" x2="78.40" y2="496.80" stroke="#222" stroke-width="1.2" />
<line x1="77.80" y1="496.20" x2="146.90" y2="496.20" stroke="#222" stroke-width="1.2" />
<line x1="75.40" y1="496.20" x2="78.40" y2="496.20" stroke="#222" stroke-width="0.9" />
<text x="72.20" y="498.40" font-size="6.2" text-anchor="end" fill="#444" >1</text>
<line x1="75.40" y1="449.80" x2="78.40" y2="449.80" stroke="#222" stroke-width="0.9" />
<text x="72.20" y="452.00" font-size="6.2" text-anchor="end" fill="#444" >10</text>
<line x1="75.40" y1="403.40" x2="78.40" y2="403.40" stroke="#222" stroke-width="0.9" />
<text x="72.20" y="405.60" font-size="6.2" text-anchor="end" fill="#444" >100</text>
<line x1="76.60" y1="482.23" x2="78.40" y2="482.23" stroke="#222" stroke-width="0.6" />
<line x1="76.60" y1="474.06" x2="78.40" y2="474.06" stroke="#222" stroke-width="0.6" />
<line x1="76.60" y1="468.26" x2="78.40" y2="468.26" stroke="#222" stroke-width="0.6" />
<line x1="76.60" y1="463.77" x2="78.40" y2="463.77" stroke="#222" stroke-width="0.6" />
<line x1="76.60" y1="460.09" x2="78.40" y2="460.09" stroke="#222" stroke-width="0.6" />
<line x1="76.60" y1="456.99" x2="78.40" y2="456.99" stroke="#222" stroke-width="0.6" />
<line x1="76.60" y1="454.30" x2="78.40" y2="454.30" stroke="#222" stroke-width="0.6" />
<line x1="76.60" y1="451.92" x2="78.40" y2="451.92" stroke="#222" stroke-width="0.6" />
<line x1="76.60" y1="435.83" x2="78.40" y2="435.83" stroke="#222" stroke-width="0.6" />
<line x1="76.60" y1="427.66" x2="78.40" y2="427.66" stroke="#222" stroke-width="0.6" />
<line x1="76.60" y1="421.86" x2="78.40" y2="421.86" stroke="#222" stroke-width="0.6" />
<line x1="76.60" y1="417.37" x2="78.40" y2="417.37" stroke="#222" stroke-width="0.6" />
<line x1="76.60" y1="413.69" x2="78.40" y2="413.69" stroke="#222" stroke-width="0.6" />
<line x1="76.60" y1="410.59" x2="78.40" y2="410.59" stroke="#222" stroke-width="0.6" />
<line x1="76.60" y1="407.90" x2="78.40" y2="407.90" stroke="#222" stroke-width="0.6" />
<line x1="76.60" y1="405.52" x2="78.40" y2="405.52" stroke="#222" stroke-width="0.6" />
<line x1="87.00" y1="496.20" x2="87.00" y2="498.60" stroke="#222" stroke-width="0.9" />
<line x1="104.00" y1="496.20" x2="104.00" y2="498.60" stroke="#222" stroke-width="0.9" />
<line x1="121.00" y1="496.20" x2="121.00" y2="498.60" stroke="#222" stroke-width="0.9" />
<line x1="138.10" y1="496.20" x2="138.10" y2="498.60" stroke="#222" stroke-width="0.9" />
<circle cx="86.81" cy="414.00" r="1.25" fill="#aa002c"/>
<circle cx="86.81" cy="418.75" r="1.25" fill="#aa002c"/>
<circle cx="88.81" cy="421.88" r="1.25" fill="#aa002c"/>
<circle cx="84.69" cy="423.12" r="1.25" fill="#aa002c"/>
<circle cx="85.94" cy="424.38" r="1.25" fill="#aa002c"/>
<circle cx="89.06" cy="425.00" r="1.25" fill="#aa002c"/>
<circle cx="83.81" cy="426.88" r="1.25" fill="#aa002c"/>
<circle cx="87.19" cy="427.50" r="1.25" fill="#aa002c"/>
<circle cx="90.31" cy="427.50" r="1.25" fill="#aa002c"/>
<circle cx="90.56" cy="428.75" r="1.25" fill="#aa002c"/>
<circle cx="83.81" cy="431.25" r="1.25" fill="#aa002c"/>
<circle cx="87.56" cy="431.25" r="1.25" fill="#aa002c"/>
<circle cx="88.81" cy="433.12" r="1.25" fill="#aa002c"/>
<circle cx="85.31" cy="434.75" r="1.25" fill="#aa002c"/>
<circle cx="88.81" cy="434.75" r="1.25" fill="#aa002c"/>
<circle cx="86.31" cy="441.25" r="1.25" fill="#aa002c"/>
<circle cx="88.81" cy="442.50" r="1.25" fill="#aa002c"/>
<circle cx="85.31" cy="442.50" r="1.25" fill="#aa002c"/>
<circle cx="88.81" cy="445.25" r="1.25" fill="#aa002c"/>
<circle cx="85.06" cy="448.12" r="1.25" fill="#aa002c"/>
<circle cx="90.31" cy="449.38" r="1.25" fill="#aa002c"/>
<circle cx="83.44" cy="450.25" r="1.25" fill="#aa002c"/>
<circle cx="87.19" cy="451.88" r="1.25" fill="#aa002c"/>
<circle cx="83.81" cy="454.38" r="1.25" fill="#aa002c"/>
<circle cx="90.56" cy="455.00" r="1.25" fill="#aa002c"/>
<circle cx="86.56" cy="456.25" r="1.25" fill="#aa002c"/>
<circle cx="85.31" cy="457.50" r="1.25" fill="#aa002c"/>
<circle cx="88.81" cy="459.38" r="1.25" fill="#aa002c"/>
<circle cx="86.81" cy="473.50" r="1.25" fill="#aa002c"/>
<circle cx="85.31" cy="437.75" r="1.25" fill="#aa002c"/>
<circle cx="89.06" cy="437.75" r="1.25" fill="#aa002c"/>
<line x1="80.80" y1="438.50" x2="93.20" y2="438.50" stroke="#111" stroke-width="1.3" />
<rect x="102.59" y="417.02" width="2.20" height="2.20" fill="#aa002c"/>
<rect x="99.46" y="419.52" width="2.20" height="2.20" fill="#aa002c"/>
<rect x="106.34" y="420.77" width="2.20" height="2.20" fill="#aa002c"/>
<rect x="102.59" y="422.02" width="2.20" height="2.20" fill="#aa002c"/>
<rect x="102.84" y="427.02" width="2.20" height="2.20" fill="#aa002c"/>
<rect x="104.84" y="428.27" width="2.20" height="2.20" fill="#aa002c"/>
<rect x="100.71" y="430.15" width="2.20" height="2.20" fill="#aa002c"/>
<rect x="106.34" y="431.15" width="2.20" height="2.20" fill="#aa002c"/>
<rect x="99.46" y="433.27" width="2.20" height="2.20" fill="#aa002c"/>
<rect x="103.21" y="433.27" width="2.20" height="2.20" fill="#aa002c"/>
<rect x="106.34" y="435.77" width="2.20" height="2.20" fill="#aa002c"/>
<rect x="102.59" y="437.02" width="2.20" height="2.20" fill="#aa002c"/>
<rect x="100.71" y="440.15" width="2.20" height="2.20" fill="#aa002c"/>
<rect x="104.84" y="443.65" width="2.20" height="2.20" fill="#aa002c"/>
<rect x="99.46" y="447.65" width="2.20" height="2.20" fill="#aa002c"/>
<rect x="106.34" y="451.15" width="2.20" height="2.20" fill="#aa002c"/>
<rect x="99.46" y="452.90" width="2.20" height="2.20" fill="#aa002c"/>
<rect x="102.59" y="453.90" width="2.20" height="2.20" fill="#aa002c"/>
<rect x="99.46" y="454.90" width="2.20" height="2.20" fill="#aa002c"/>
<rect x="106.34" y="455.77" width="2.20" height="2.20" fill="#aa002c"/>
<rect x="102.59" y="457.02" width="2.20" height="2.20" fill="#aa002c"/>
<rect x="100.71" y="459.52" width="2.20" height="2.20" fill="#aa002c"/>
<rect x="104.84" y="462.02" width="2.20" height="2.20" fill="#aa002c"/>
<rect x="99.46" y="463.90" width="2.20" height="2.20" fill="#aa002c"/>
<rect x="102.84" y="465.77" width="2.20" height="2.20" fill="#aa002c"/>
<rect x="106.34" y="465.40" width="2.20" height="2.20" fill="#aa002c"/>
<rect x="100.71" y="472.90" width="2.20" height="2.20" fill="#aa002c"/>
<rect x="104.84" y="472.90" width="2.20" height="2.20" fill="#aa002c"/>
<rect x="104.84" y="477.02" width="2.20" height="2.20" fill="#aa002c"/>
<rect x="101.34" y="479.52" width="2.20" height="2.20" fill="#aa002c"/>
<rect x="100.71" y="445.40" width="2.20" height="2.20" fill="#aa002c"/>
<rect x="104.46" y="445.40" width="2.20" height="2.20" fill="#aa002c"/>
<line x1="97.80" y1="447.12" x2="110.20" y2="447.12" stroke="#111" stroke-width="1.3" />
<polygon points="121.19,416.56 122.56,419.17 119.81,419.17" fill="#aa002c"/>
<polygon points="117.44,422.43 118.81,425.05 116.06,425.05" fill="#aa002c"/>
<polygon points="121.19,422.81 122.56,425.42 119.81,425.42" fill="#aa002c"/>
<polygon points="124.56,422.81 125.94,425.42 123.19,425.42" fill="#aa002c"/>
<polygon points="117.44,426.56 118.81,429.17 116.06,429.17" fill="#aa002c"/>
<polygon points="121.19,427.18 122.56,429.80 119.81,429.80" fill="#aa002c"/>
<polygon points="124.56,426.56 125.94,429.17 123.19,429.17" fill="#aa002c"/>
<polygon points="122.94,428.43 124.31,431.05 121.56,431.05" fill="#aa002c"/>
<polygon points="119.56,429.68 120.94,432.30 118.19,432.30" fill="#aa002c"/>
<polygon points="119.19,430.31 120.56,432.92 117.81,432.92" fill="#aa002c"/>
<polygon points="119.19,432.18 120.56,434.80 117.81,434.80" fill="#aa002c"/>
<polygon points="122.94,432.81 124.31,435.42 121.56,435.42" fill="#aa002c"/>
<polygon points="122.94,433.43 124.31,436.05 121.56,436.05" fill="#aa002c"/>
<polygon points="117.44,440.68 118.81,443.30 116.06,443.30" fill="#aa002c"/>
<polygon points="121.19,440.93 122.56,443.55 119.81,443.55" fill="#aa002c"/>
<polygon points="124.56,440.31 125.94,442.92 123.19,442.92" fill="#aa002c"/>
<polygon points="122.94,443.18 124.31,445.80 121.56,445.80" fill="#aa002c"/>
<polygon points="119.19,444.68 120.56,447.30 117.81,447.30" fill="#aa002c"/>
<polygon points="119.19,445.93 120.56,448.55 117.81,448.55" fill="#aa002c"/>
<polygon points="122.94,447.43 124.31,450.05 121.56,450.05" fill="#aa002c"/>
<polygon points="117.44,450.93 118.81,453.55 116.06,453.55" fill="#aa002c"/>
<polygon points="124.56,451.56 125.94,454.17 123.19,454.17" fill="#aa002c"/>
<polygon points="121.19,453.43 122.56,456.05 119.81,456.05" fill="#aa002c"/>
<polygon points="124.56,455.31 125.94,457.92 123.19,457.92" fill="#aa002c"/>
<polygon points="117.44,457.43 118.81,460.05 116.06,460.05" fill="#aa002c"/>
<polygon points="121.19,457.43 122.56,460.05 119.81,460.05" fill="#aa002c"/>
<polygon points="122.94,460.31 124.31,462.92 121.56,462.92" fill="#aa002c"/>
<polygon points="119.56,462.43 120.94,465.05 118.19,465.05" fill="#aa002c"/>
<polygon points="118.94,436.93 120.31,439.55 117.56,439.55" fill="#aa002c"/>
<polygon points="123.31,436.93 124.69,439.55 121.94,439.55" fill="#aa002c"/>
<line x1="114.80" y1="438.75" x2="127.20" y2="438.75" stroke="#111" stroke-width="1.3" />
<polygon points="136.16,416.82 137.54,414.20 134.79,414.20" fill="#aa002c"/>
<polygon points="139.91,416.82 141.29,414.20 138.54,414.20" fill="#aa002c"/>
<polygon points="136.16,419.07 137.54,416.45 134.79,416.45" fill="#aa002c"/>
<polygon points="139.91,420.57 141.29,417.95 138.54,417.95" fill="#aa002c"/>
<polygon points="138.04,423.44 139.41,420.83 136.66,420.83" fill="#aa002c"/>
<polygon points="136.16,426.82 137.54,424.20 134.79,424.20" fill="#aa002c"/>
<polygon points="139.91,427.57 141.29,424.95 138.54,424.95" fill="#aa002c"/>
<polygon points="139.91,428.44 141.29,425.83 138.54,425.83" fill="#aa002c"/>
<polygon points="136.16,430.94 137.54,428.33 134.79,428.33" fill="#aa002c"/>
<polygon points="139.91,431.57 141.29,428.95 138.54,428.95" fill="#aa002c"/>
<polygon points="138.04,435.07 139.41,432.45 136.66,432.45" fill="#aa002c"/>
<polygon points="136.16,437.82 137.54,435.20 134.79,435.20" fill="#aa002c"/>
<polygon points="139.91,438.44 141.29,435.83 138.54,435.83" fill="#aa002c"/>
<polygon points="136.16,439.32 137.54,436.70 134.79,436.70" fill="#aa002c"/>
<polygon points="141.54,441.57 142.91,438.95 140.16,438.95" fill="#aa002c"/>
<polygon points="134.66,442.19 136.04,439.58 133.29,439.58" fill="#aa002c"/>
<polygon points="138.04,443.82 139.41,441.20 136.66,441.20" fill="#aa002c"/>
<polygon points="139.66,446.57 141.04,443.95 138.29,443.95" fill="#aa002c"/>
<polygon points="136.16,448.82 137.54,446.20 134.79,446.20" fill="#aa002c"/>
<polygon points="138.04,454.07 139.41,451.45 136.66,451.45" fill="#aa002c"/>
<polygon points="139.91,456.32 141.29,453.70 138.54,453.70" fill="#aa002c"/>
<polygon points="136.16,457.57 137.54,454.95 134.79,454.95" fill="#aa002c"/>
<polygon points="135.54,433.82 136.91,431.20 134.16,431.20" fill="#aa002c"/>
<polygon points="140.54,433.82 141.91,431.20 139.16,431.20" fill="#aa002c"/>
<line x1="131.90" y1="432.25" x2="144.30" y2="432.25" stroke="#111" stroke-width="1.3" />
<line x1="174.90" y1="401.30" x2="174.90" y2="496.80" stroke="#222" stroke-width="1.2" />
<line x1="174.30" y1="496.20" x2="243.40" y2="496.20" stroke="#222" stroke-width="1.2" />
<line x1="171.90" y1="496.20" x2="174.90" y2="496.20" stroke="#222" stroke-width="0.9" />
<text x="168.70" y="498.40" font-size="6.2" text-anchor="end" fill="#444" >1</text>
<line x1="171.90" y1="449.80" x2="174.90" y2="449.80" stroke="#222" stroke-width="0.9" />
<text x="168.70" y="452.00" font-size="6.2" text-anchor="end" fill="#444" >10</text>
<line x1="171.90" y1="403.40" x2="174.90" y2="403.40" stroke="#222" stroke-width="0.9" />
<text x="168.70" y="405.60" font-size="6.2" text-anchor="end" fill="#444" >100</text>
<line x1="173.10" y1="482.23" x2="174.90" y2="482.23" stroke="#222" stroke-width="0.6" />
<line x1="173.10" y1="474.06" x2="174.90" y2="474.06" stroke="#222" stroke-width="0.6" />
<line x1="173.10" y1="468.26" x2="174.90" y2="468.26" stroke="#222" stroke-width="0.6" />
<line x1="173.10" y1="463.77" x2="174.90" y2="463.77" stroke="#222" stroke-width="0.6" />
<line x1="173.10" y1="460.09" x2="174.90" y2="460.09" stroke="#222" stroke-width="0.6" />
<line x1="173.10" y1="456.99" x2="174.90" y2="456.99" stroke="#222" stroke-width="0.6" />
<line x1="173.10" y1="454.30" x2="174.90" y2="454.30" stroke="#222" stroke-width="0.6" />
<line x1="173.10" y1="451.92" x2="174.90" y2="451.92" stroke="#222" stroke-width="0.6" />
<line x1="173.10" y1="435.83" x2="174.90" y2="435.83" stroke="#222" stroke-width="0.6" />
<line x1="173.10" y1="427.66" x2="174.90" y2="427.66" stroke="#222" stroke-width="0.6" />
<line x1="173.10" y1="421.86" x2="174.90" y2="421.86" stroke="#222" stroke-width="0.6" />
<line x1="173.10" y1="417.37" x2="174.90" y2="417.37" stroke="#222" stroke-width="0.6" />
<line x1="173.10" y1="413.69" x2="174.90" y2="413.69" stroke="#222" stroke-width="0.6" />
<line x1="173.10" y1="410.59" x2="174.90" y2="410.59" stroke="#222" stroke-width="0.6" />
<line x1="173.10" y1="407.90" x2="174.90" y2="407.90" stroke="#222" stroke-width="0.6" />
<line x1="173.10" y1="405.52" x2="174.90" y2="405.52" stroke="#222" stroke-width="0.6" />
<line x1="183.50" y1="496.20" x2="183.50" y2="498.60" stroke="#222" stroke-width="0.9" />
<line x1="200.50" y1="496.20" x2="200.50" y2="498.60" stroke="#222" stroke-width="0.9" />
<line x1="217.50" y1="496.20" x2="217.50" y2="498.60" stroke="#222" stroke-width="0.9" />
<line x1="234.60" y1="496.20" x2="234.60" y2="498.60" stroke="#222" stroke-width="0.9" />
<circle cx="180.58" cy="414.42" r="1.25" fill="#aa002c"/>
<circle cx="183.54" cy="413.41" r="1.25" fill="#aa002c"/>
<circle cx="185.25" cy="413.87" r="1.25" fill="#aa002c"/>
<circle cx="187.20" cy="414.65" r="1.25" fill="#aa002c"/>
<circle cx="179.02" cy="415.59" r="1.25" fill="#aa002c"/>
<circle cx="181.36" cy="415.98" r="1.25" fill="#aa002c"/>
<circle cx="183.54" cy="415.59" r="1.25" fill="#aa002c"/>
<circle cx="185.64" cy="415.98" r="1.25" fill="#aa002c"/>
<circle cx="187.98" cy="415.98" r="1.25" fill="#aa002c"/>
<circle cx="182.14" cy="417.54" r="1.25" fill="#aa002c"/>
<circle cx="184.47" cy="417.54" r="1.25" fill="#aa002c"/>
<circle cx="179.41" cy="416.76" r="1.25" fill="#aa002c"/>
<circle cx="182.53" cy="420.65" r="1.25" fill="#aa002c"/>
<circle cx="184.86" cy="421.04" r="1.25" fill="#aa002c"/>
<circle cx="181.75" cy="422.60" r="1.25" fill="#aa002c"/>
<circle cx="185.25" cy="422.60" r="1.25" fill="#aa002c"/>
<circle cx="182.92" cy="423.38" r="1.25" fill="#aa002c"/>
<circle cx="180.19" cy="424.94" r="1.25" fill="#aa002c"/>
<circle cx="186.42" cy="425.33" r="1.25" fill="#aa002c"/>
<circle cx="180.97" cy="426.50" r="1.25" fill="#aa002c"/>
<circle cx="183.69" cy="426.50" r="1.25" fill="#aa002c"/>
<circle cx="187.20" cy="426.89" r="1.25" fill="#aa002c"/>
<circle cx="179.80" cy="427.67" r="1.25" fill="#aa002c"/>
<circle cx="182.14" cy="427.28" r="1.25" fill="#aa002c"/>
<circle cx="183.54" cy="429.46" r="1.25" fill="#aa002c"/>
<circle cx="183.54" cy="442.09" r="1.25" fill="#aa002c"/>
<circle cx="180.58" cy="419.49" r="1.25" fill="#aa002c"/>
<circle cx="186.03" cy="419.49" r="1.25" fill="#aa002c"/>
<line x1="177.30" y1="419.88" x2="189.70" y2="419.88" stroke="#111" stroke-width="1.3" />
<rect x="199.01" y="411.53" width="2.20" height="2.20" fill="#aa002c"/>
<rect x="200.96" y="414.10" width="2.20" height="2.20" fill="#aa002c"/>
<rect x="197.45" y="415.27" width="2.20" height="2.20" fill="#aa002c"/>
<rect x="199.01" y="417.61" width="2.20" height="2.20" fill="#aa002c"/>
<rect x="195.89" y="419.55" width="2.20" height="2.20" fill="#aa002c"/>
<rect x="201.74" y="419.01" width="2.20" height="2.20" fill="#aa002c"/>
<rect x="198.23" y="419.94" width="2.20" height="2.20" fill="#aa002c"/>
<rect x="200.18" y="420.72" width="2.20" height="2.20" fill="#aa002c"/>
<rect x="196.67" y="422.28" width="2.20" height="2.20" fill="#aa002c"/>
<rect x="201.35" y="422.28" width="2.20" height="2.20" fill="#aa002c"/>
<rect x="199.01" y="423.06" width="2.20" height="2.20" fill="#aa002c"/>
<rect x="203.69" y="424.23" width="2.20" height="2.20" fill="#aa002c"/>
<rect x="195.11" y="424.62" width="2.20" height="2.20" fill="#aa002c"/>
<rect x="197.45" y="426.18" width="2.20" height="2.20" fill="#aa002c"/>
<rect x="200.57" y="425.79" width="2.20" height="2.20" fill="#aa002c"/>
<rect x="198.23" y="427.74" width="2.20" height="2.20" fill="#aa002c"/>
<rect x="200.18" y="428.13" width="2.20" height="2.20" fill="#aa002c"/>
<rect x="197.45" y="429.69" width="2.20" height="2.20" fill="#aa002c"/>
<rect x="200.57" y="429.30" width="2.20" height="2.20" fill="#aa002c"/>
<rect x="195.89" y="433.82" width="2.20" height="2.20" fill="#aa002c"/>
<rect x="202.52" y="433.82" width="2.20" height="2.20" fill="#aa002c"/>
<rect x="199.01" y="435.53" width="2.20" height="2.20" fill="#aa002c"/>
<rect x="200.96" y="438.81" width="2.20" height="2.20" fill="#aa002c"/>
<rect x="197.84" y="441.38" width="2.20" height="2.20" fill="#aa002c"/>
<rect x="196.67" y="424.85" width="2.20" height="2.20" fill="#aa002c"/>
<rect x="202.13" y="424.85" width="2.20" height="2.20" fill="#aa002c"/>
<line x1="194.30" y1="425.95" x2="206.70" y2="425.95" stroke="#111" stroke-width="1.3" />
<polygon points="212.82,412.07 214.20,414.68 211.45,414.68" fill="#aa002c"/>
<polygon points="214.77,412.85 216.15,415.46 213.40,415.46" fill="#aa002c"/>
<polygon points="216.72,411.29 218.10,413.91 215.35,413.91" fill="#aa002c"/>
<polygon points="218.67,412.46 220.04,415.07 217.29,415.07" fill="#aa002c"/>
<polygon points="221.01,412.07 222.38,414.68 219.63,414.68" fill="#aa002c"/>
<polygon points="221.79,413.24 223.16,415.85 220.41,415.85" fill="#aa002c"/>
<polygon points="213.21,414.41 214.59,417.02 211.84,417.02" fill="#aa002c"/>
<polygon points="215.55,414.02 216.93,416.63 214.18,416.63" fill="#aa002c"/>
<polygon points="218.67,414.41 220.04,417.02 217.29,417.02" fill="#aa002c"/>
<polygon points="220.62,414.80 221.99,417.41 219.24,417.41" fill="#aa002c"/>
<polygon points="213.99,416.36 215.37,418.97 212.62,418.97" fill="#aa002c"/>
<polygon points="217.11,416.75 218.49,419.36 215.74,419.36" fill="#aa002c"/>
<polygon points="219.84,416.36 221.21,418.97 218.46,418.97" fill="#aa002c"/>
<polygon points="215.16,418.31 216.54,420.92 213.79,420.92" fill="#aa002c"/>
<polygon points="219.06,418.31 220.43,420.92 217.68,420.92" fill="#aa002c"/>
<polygon points="215.16,419.87 216.54,422.48 213.79,422.48" fill="#aa002c"/>
<polygon points="219.06,419.87 220.43,422.48 217.68,422.48" fill="#aa002c"/>
<polygon points="215.16,421.82 216.54,424.43 213.79,424.43" fill="#aa002c"/>
<polygon points="219.06,421.82 220.43,424.43 217.68,424.43" fill="#aa002c"/>
<polygon points="215.16,423.37 216.54,425.99 213.79,425.99" fill="#aa002c"/>
<polygon points="219.06,423.37 220.43,425.99 217.68,425.99" fill="#aa002c"/>
<polygon points="215.55,424.93 216.93,427.55 214.18,427.55" fill="#aa002c"/>
<polygon points="219.06,424.93 220.43,427.55 217.68,427.55" fill="#aa002c"/>
<polygon points="217.11,431.56 218.49,434.17 215.74,434.17" fill="#aa002c"/>
<polygon points="212.43,415.19 213.81,417.80 211.06,417.80" fill="#aa002c"/>
<polygon points="222.57,415.19 223.94,417.80 221.19,417.80" fill="#aa002c"/>
<line x1="211.30" y1="416.76" x2="223.70" y2="416.76" stroke="#111" stroke-width="1.3" />
<polygon points="232.65,410.92 234.03,408.31 231.28,408.31" fill="#aa002c"/>
<polygon points="235.77,411.70 237.14,409.09 234.39,409.09" fill="#aa002c"/>
<polygon points="233.43,413.26 234.81,410.65 232.06,410.65" fill="#aa002c"/>
<polygon points="235.38,414.04 236.75,411.43 234.00,411.43" fill="#aa002c"/>
<polygon points="230.31,415.99 231.69,413.37 228.94,413.37" fill="#aa002c"/>
<polygon points="232.65,415.60 234.03,412.98 231.28,412.98" fill="#aa002c"/>
<polygon points="234.99,415.21 236.36,412.59 233.61,412.59" fill="#aa002c"/>
<polygon points="237.33,415.60 238.70,412.98 235.95,412.98" fill="#aa002c"/>
<polygon points="238.89,416.38 240.26,413.76 237.51,413.76" fill="#aa002c"/>
<polygon points="231.09,417.16 232.47,414.54 229.72,414.54" fill="#aa002c"/>
<polygon points="233.82,417.16 235.20,414.54 232.45,414.54" fill="#aa002c"/>
<polygon points="236.55,417.55 237.92,414.93 235.17,414.93" fill="#aa002c"/>
<polygon points="232.65,420.27 234.03,417.66 231.28,417.66" fill="#aa002c"/>
<polygon points="234.99,420.66 236.36,418.05 233.61,418.05" fill="#aa002c"/>
<polygon points="231.87,422.22 233.25,419.61 230.50,419.61" fill="#aa002c"/>
<polygon points="234.21,422.61 235.59,420.00 232.84,420.00" fill="#aa002c"/>
<polygon points="236.16,422.22 237.53,419.61 234.78,419.61" fill="#aa002c"/>
<polygon points="232.65,423.78 234.03,421.17 231.28,421.17" fill="#aa002c"/>
<polygon points="231.87,426.51 233.25,423.90 230.50,423.90" fill="#aa002c"/>
<polygon points="233.82,426.51 235.20,423.90 232.45,423.90" fill="#aa002c"/>
<polygon points="236.16,426.90 237.53,424.29 234.78,424.29" fill="#aa002c"/>
<polygon points="232.65,428.46 234.03,425.85 231.28,425.85" fill="#aa002c"/>
<polygon points="234.99,427.68 236.36,425.07 233.61,425.07" fill="#aa002c"/>
<polygon points="229.53,418.33 230.91,415.71 228.16,415.71" fill="#aa002c"/>
<polygon points="239.67,418.33 241.04,415.71 238.29,415.71" fill="#aa002c"/>
<line x1="228.40" y1="416.76" x2="240.80" y2="416.76" stroke="#111" stroke-width="1.3" />
<line x1="270.50" y1="401.30" x2="270.50" y2="496.80" stroke="#222" stroke-width="1.2" />
<line x1="269.90" y1="496.20" x2="339.00" y2="496.20" stroke="#222" stroke-width="1.2" />
<line x1="267.50" y1="496.20" x2="270.50" y2="496.20" stroke="#222" stroke-width="0.9" />
<text x="264.30" y="498.40" font-size="6.2" text-anchor="end" fill="#444" >1</text>
<line x1="267.50" y1="449.80" x2="270.50" y2="449.80" stroke="#222" stroke-width="0.9" />
<text x="264.30" y="452.00" font-size="6.2" text-anchor="end" fill="#444" >10</text>
<line x1="267.50" y1="403.40" x2="270.50" y2="403.40" stroke="#222" stroke-width="0.9" />
<text x="264.30" y="405.60" font-size="6.2" text-anchor="end" fill="#444" >100</text>
<line x1="268.70" y1="482.23" x2="270.50" y2="482.23" stroke="#222" stroke-width="0.6" />
<line x1="268.70" y1="474.06" x2="270.50" y2="474.06" stroke="#222" stroke-width="0.6" />
<line x1="268.70" y1="468.26" x2="270.50" y2="468.26" stroke="#222" stroke-width="0.6" />
<line x1="268.70" y1="463.77" x2="270.50" y2="463.77" stroke="#222" stroke-width="0.6" />
<line x1="268.70" y1="460.09" x2="270.50" y2="460.09" stroke="#222" stroke-width="0.6" />
<line x1="268.70" y1="456.99" x2="270.50" y2="456.99" stroke="#222" stroke-width="0.6" />
<line x1="268.70" y1="454.30" x2="270.50" y2="454.30" stroke="#222" stroke-width="0.6" />
<line x1="268.70" y1="451.92" x2="270.50" y2="451.92" stroke="#222" stroke-width="0.6" />
<line x1="268.70" y1="435.83" x2="270.50" y2="435.83" stroke="#222" stroke-width="0.6" />
<line x1="268.70" y1="427.66" x2="270.50" y2="427.66" stroke="#222" stroke-width="0.6" />
<line x1="268.70" y1="421.86" x2="270.50" y2="421.86" stroke="#222" stroke-width="0.6" />
<line x1="268.70" y1="417.37" x2="270.50" y2="417.37" stroke="#222" stroke-width="0.6" />
<line x1="268.70" y1="413.69" x2="270.50" y2="413.69" stroke="#222" stroke-width="0.6" />
<line x1="268.70" y1="410.59" x2="270.50" y2="410.59" stroke="#222" stroke-width="0.6" />
<line x1="268.70" y1="407.90" x2="270.50" y2="407.90" stroke="#222" stroke-width="0.6" />
<line x1="268.70" y1="405.52" x2="270.50" y2="405.52" stroke="#222" stroke-width="0.6" />
<line x1="279.10" y1="496.20" x2="279.10" y2="498.60" stroke="#222" stroke-width="0.9" />
<line x1="296.10" y1="496.20" x2="296.10" y2="498.60" stroke="#222" stroke-width="0.9" />
<line x1="313.10" y1="496.20" x2="313.10" y2="498.60" stroke="#222" stroke-width="0.9" />
<line x1="330.20" y1="496.20" x2="330.20" y2="498.60" stroke="#222" stroke-width="0.9" />
<circle cx="278.91" cy="417.64" r="1.25" fill="#aa002c"/>
<circle cx="277.04" cy="420.45" r="1.25" fill="#aa002c"/>
<circle cx="280.50" cy="421.85" r="1.25" fill="#aa002c"/>
<circle cx="277.70" cy="425.13" r="1.25" fill="#aa002c"/>
<circle cx="280.04" cy="425.13" r="1.25" fill="#aa002c"/>
<circle cx="275.82" cy="427.47" r="1.25" fill="#aa002c"/>
<circle cx="278.63" cy="427.47" r="1.25" fill="#aa002c"/>
<circle cx="281.91" cy="427.47" r="1.25" fill="#aa002c"/>
<circle cx="277.23" cy="429.81" r="1.25" fill="#aa002c"/>
<circle cx="280.04" cy="429.81" r="1.25" fill="#aa002c"/>
<circle cx="275.82" cy="431.22" r="1.25" fill="#aa002c"/>
<circle cx="279.10" cy="431.69" r="1.25" fill="#aa002c"/>
<circle cx="281.91" cy="432.15" r="1.25" fill="#aa002c"/>
<circle cx="277.70" cy="433.09" r="1.25" fill="#aa002c"/>
<circle cx="276.29" cy="434.96" r="1.25" fill="#aa002c"/>
<circle cx="280.97" cy="434.96" r="1.25" fill="#aa002c"/>
<circle cx="278.63" cy="435.43" r="1.25" fill="#aa002c"/>
<circle cx="277.04" cy="440.39" r="1.25" fill="#aa002c"/>
<circle cx="280.50" cy="440.39" r="1.25" fill="#aa002c"/>
<circle cx="277.23" cy="443.86" r="1.25" fill="#aa002c"/>
<circle cx="280.50" cy="445.45" r="1.25" fill="#aa002c"/>
<circle cx="277.04" cy="448.54" r="1.25" fill="#aa002c"/>
<circle cx="276.76" cy="453.22" r="1.25" fill="#aa002c"/>
<circle cx="280.50" cy="453.22" r="1.25" fill="#aa002c"/>
<circle cx="275.54" cy="455.37" r="1.25" fill="#aa002c"/>
<circle cx="278.63" cy="456.97" r="1.25" fill="#aa002c"/>
<circle cx="282.38" cy="456.69" r="1.25" fill="#aa002c"/>
<circle cx="274.42" cy="433.56" r="1.25" fill="#aa002c"/>
<circle cx="283.78" cy="433.56" r="1.25" fill="#aa002c"/>
<line x1="272.90" y1="433.56" x2="285.30" y2="433.56" stroke="#111" stroke-width="1.3" />
<rect x="295.94" y="411.39" width="2.20" height="2.20" fill="#aa002c"/>
<rect x="293.13" y="412.80" width="2.20" height="2.20" fill="#aa002c"/>
<rect x="296.40" y="413.73" width="2.20" height="2.20" fill="#aa002c"/>
<rect x="292.66" y="415.14" width="2.20" height="2.20" fill="#aa002c"/>
<rect x="295.00" y="415.60" width="2.20" height="2.20" fill="#aa002c"/>
<rect x="297.81" y="416.07" width="2.20" height="2.20" fill="#aa002c"/>
<rect x="290.79" y="417.01" width="2.20" height="2.20" fill="#aa002c"/>
<rect x="294.06" y="417.94" width="2.20" height="2.20" fill="#aa002c"/>
<rect x="296.87" y="417.94" width="2.20" height="2.20" fill="#aa002c"/>
<rect x="292.19" y="419.35" width="2.20" height="2.20" fill="#aa002c"/>
<rect x="295.94" y="419.82" width="2.20" height="2.20" fill="#aa002c"/>
<rect x="290.79" y="422.16" width="2.20" height="2.20" fill="#aa002c"/>
<rect x="293.60" y="422.63" width="2.20" height="2.20" fill="#aa002c"/>
<rect x="296.87" y="422.63" width="2.20" height="2.20" fill="#aa002c"/>
<rect x="292.19" y="424.50" width="2.20" height="2.20" fill="#aa002c"/>
<rect x="295.47" y="424.03" width="2.20" height="2.20" fill="#aa002c"/>
<rect x="297.81" y="425.44" width="2.20" height="2.20" fill="#aa002c"/>
<rect x="290.79" y="425.90" width="2.20" height="2.20" fill="#aa002c"/>
<rect x="294.06" y="426.37" width="2.20" height="2.20" fill="#aa002c"/>
<rect x="296.87" y="426.84" width="2.20" height="2.20" fill="#aa002c"/>
<rect x="292.66" y="427.78" width="2.20" height="2.20" fill="#aa002c"/>
<rect x="295.47" y="428.24" width="2.20" height="2.20" fill="#aa002c"/>
<rect x="293.13" y="436.67" width="2.20" height="2.20" fill="#aa002c"/>
<rect x="295.94" y="438.54" width="2.20" height="2.20" fill="#aa002c"/>
<rect x="292.66" y="445.10" width="2.20" height="2.20" fill="#aa002c"/>
<rect x="296.40" y="444.35" width="2.20" height="2.20" fill="#aa002c"/>
<rect x="292.66" y="448.09" width="2.20" height="2.20" fill="#aa002c"/>
<rect x="296.40" y="448.09" width="2.20" height="2.20" fill="#aa002c"/>
<rect x="295.00" y="453.53" width="2.20" height="2.20" fill="#aa002c"/>
<rect x="290.32" y="421.22" width="2.20" height="2.20" fill="#aa002c"/>
<rect x="299.68" y="421.22" width="2.20" height="2.20" fill="#aa002c"/>
<line x1="289.90" y1="422.32" x2="302.30" y2="422.32" stroke="#111" stroke-width="1.3" />
<polygon points="309.40,417.95 310.78,420.56 308.03,420.56" fill="#aa002c"/>
<polygon points="316.61,417.95 317.99,420.56 315.24,420.56" fill="#aa002c"/>
<polygon points="312.87,420.29 314.24,422.90 311.49,422.90" fill="#aa002c"/>
<polygon points="314.74,422.63 316.11,425.24 313.36,425.24" fill="#aa002c"/>
<polygon points="310.99,424.50 312.37,427.11 309.62,427.11" fill="#aa002c"/>
<polygon points="314.74,424.03 316.11,426.64 313.36,426.64" fill="#aa002c"/>
<polygon points="310.99,426.37 312.37,428.99 309.62,428.99" fill="#aa002c"/>
<polygon points="314.74,426.84 316.11,429.45 313.36,429.45" fill="#aa002c"/>
<polygon points="311.27,428.71 312.65,431.33 309.90,431.33" fill="#aa002c"/>
<polygon points="314.74,428.71 316.11,431.33 313.36,431.33" fill="#aa002c"/>
<polygon points="309.59,431.05 310.96,433.67 308.21,433.67" fill="#aa002c"/>
<polygon points="312.87,431.52 314.24,434.13 311.49,434.13" fill="#aa002c"/>
<polygon points="316.61,430.77 317.99,433.39 315.24,433.39" fill="#aa002c"/>
<polygon points="310.99,434.80 312.37,437.41 309.62,437.41" fill="#aa002c"/>
<polygon points="314.27,434.80 315.65,437.41 312.90,437.41" fill="#aa002c"/>
<polygon points="309.59,436.67 310.96,439.28 308.21,439.28" fill="#aa002c"/>
<polygon points="312.40,436.20 313.77,438.82 311.02,438.82" fill="#aa002c"/>
<polygon points="316.14,436.67 317.52,439.28 314.77,439.28" fill="#aa002c"/>
<polygon points="311.27,439.01 312.65,441.63 309.90,441.63" fill="#aa002c"/>
<polygon points="314.74,439.01 316.11,441.63 313.36,441.63" fill="#aa002c"/>
<polygon points="310.99,441.35 312.37,443.97 309.62,443.97" fill="#aa002c"/>
<polygon points="314.74,441.35 316.11,443.97 313.36,443.97" fill="#aa002c"/>
<polygon points="309.59,445.38 310.96,447.99 308.21,447.99" fill="#aa002c"/>
<polygon points="316.61,446.69 317.99,449.30 315.24,449.30" fill="#aa002c"/>
<polygon points="312.87,447.25 314.24,449.87 311.49,449.87" fill="#aa002c"/>
<polygon points="312.87,451.37 314.24,453.99 311.49,453.99" fill="#aa002c"/>
<polygon points="312.87,456.34 314.24,458.95 311.49,458.95" fill="#aa002c"/>
<polygon points="308.18,433.40 309.56,436.01 306.81,436.01" fill="#aa002c"/>
<polygon points="318.02,433.40 319.39,436.01 316.64,436.01" fill="#aa002c"/>
<line x1="306.90" y1="434.96" x2="319.30" y2="434.96" stroke="#111" stroke-width="1.3" />
<polygon points="330.25,422.95 331.62,420.34 328.87,420.34" fill="#aa002c"/>
<polygon points="331.84,428.10 333.21,425.49 330.46,425.49" fill="#aa002c"/>
<polygon points="328.09,429.51 329.47,426.90 326.72,426.90" fill="#aa002c"/>
<polygon points="331.84,429.51 333.21,426.90 330.46,426.90" fill="#aa002c"/>
<polygon points="329.03,431.85 330.40,429.24 327.65,429.24" fill="#aa002c"/>
<polygon points="326.69,433.72 328.06,431.11 325.31,431.11" fill="#aa002c"/>
<polygon points="330.43,434.19 331.81,431.58 329.06,431.58" fill="#aa002c"/>
<polygon points="333.71,434.19 335.09,431.58 332.34,431.58" fill="#aa002c"/>
<polygon points="328.09,434.66 329.47,432.04 326.72,432.04" fill="#aa002c"/>
<polygon points="331.84,435.13 333.21,432.51 330.46,432.51" fill="#aa002c"/>
<polygon points="326.22,441.21 327.60,438.60 324.85,438.60" fill="#aa002c"/>
<polygon points="329.03,441.21 330.40,438.60 327.65,438.60" fill="#aa002c"/>
<polygon points="331.37,440.74 332.75,438.13 330.00,438.13" fill="#aa002c"/>
<polygon points="334.18,441.68 335.55,439.07 332.80,439.07" fill="#aa002c"/>
<polygon points="328.09,444.02 329.47,441.41 326.72,441.41" fill="#aa002c"/>
<polygon points="331.84,444.49 333.21,441.88 330.46,441.88" fill="#aa002c"/>
<polygon points="326.69,446.36 328.06,443.75 325.31,443.75" fill="#aa002c"/>
<polygon points="330.43,446.64 331.81,444.03 329.06,444.03" fill="#aa002c"/>
<polygon points="333.24,446.83 334.62,444.22 331.87,444.22" fill="#aa002c"/>
<polygon points="330.25,451.32 331.62,448.71 328.87,448.71" fill="#aa002c"/>
<polygon points="326.69,457.13 328.06,454.52 325.31,454.52" fill="#aa002c"/>
<polygon points="330.25,458.25 331.62,455.64 328.87,455.64" fill="#aa002c"/>
<polygon points="333.71,458.25 335.09,455.64 332.34,455.64" fill="#aa002c"/>
<polygon points="324.82,437.47 326.19,434.85 323.44,434.85" fill="#aa002c"/>
<polygon points="335.58,437.47 336.96,434.85 334.21,434.85" fill="#aa002c"/>
<line x1="324.00" y1="435.90" x2="336.40" y2="435.90" stroke="#111" stroke-width="1.3" />
<line x1="366.00" y1="401.30" x2="366.00" y2="496.80" stroke="#222" stroke-width="1.2" />
<line x1="365.40" y1="496.20" x2="434.50" y2="496.20" stroke="#222" stroke-width="1.2" />
<line x1="363.00" y1="496.20" x2="366.00" y2="496.20" stroke="#222" stroke-width="0.9" />
<text x="359.80" y="498.40" font-size="6.2" text-anchor="end" fill="#444" >1</text>
<line x1="363.00" y1="449.80" x2="366.00" y2="449.80" stroke="#222" stroke-width="0.9" />
<text x="359.80" y="452.00" font-size="6.2" text-anchor="end" fill="#444" >10</text>
<line x1="363.00" y1="403.40" x2="366.00" y2="403.40" stroke="#222" stroke-width="0.9" />
<text x="359.80" y="405.60" font-size="6.2" text-anchor="end" fill="#444" >100</text>
<line x1="364.20" y1="482.23" x2="366.00" y2="482.23" stroke="#222" stroke-width="0.6" />
<line x1="364.20" y1="474.06" x2="366.00" y2="474.06" stroke="#222" stroke-width="0.6" />
<line x1="364.20" y1="468.26" x2="366.00" y2="468.26" stroke="#222" stroke-width="0.6" />
<line x1="364.20" y1="463.77" x2="366.00" y2="463.77" stroke="#222" stroke-width="0.6" />
<line x1="364.20" y1="460.09" x2="366.00" y2="460.09" stroke="#222" stroke-width="0.6" />
<line x1="364.20" y1="456.99" x2="366.00" y2="456.99" stroke="#222" stroke-width="0.6" />
<line x1="364.20" y1="454.30" x2="366.00" y2="454.30" stroke="#222" stroke-width="0.6" />
<line x1="364.20" y1="451.92" x2="366.00" y2="451.92" stroke="#222" stroke-width="0.6" />
<line x1="364.20" y1="435.83" x2="366.00" y2="435.83" stroke="#222" stroke-width="0.6" />
<line x1="364.20" y1="427.66" x2="366.00" y2="427.66" stroke="#222" stroke-width="0.6" />
<line x1="364.20" y1="421.86" x2="366.00" y2="421.86" stroke="#222" stroke-width="0.6" />
<line x1="364.20" y1="417.37" x2="366.00" y2="417.37" stroke="#222" stroke-width="0.6" />
<line x1="364.20" y1="413.69" x2="366.00" y2="413.69" stroke="#222" stroke-width="0.6" />
<line x1="364.20" y1="410.59" x2="366.00" y2="410.59" stroke="#222" stroke-width="0.6" />
<line x1="364.20" y1="407.90" x2="366.00" y2="407.90" stroke="#222" stroke-width="0.6" />
<line x1="364.20" y1="405.52" x2="366.00" y2="405.52" stroke="#222" stroke-width="0.6" />
<line x1="374.60" y1="496.20" x2="374.60" y2="498.60" stroke="#222" stroke-width="0.9" />
<line x1="391.60" y1="496.20" x2="391.60" y2="498.60" stroke="#222" stroke-width="0.9" />
<line x1="408.60" y1="496.20" x2="408.60" y2="498.60" stroke="#222" stroke-width="0.9" />
<line x1="425.70" y1="496.20" x2="425.70" y2="498.60" stroke="#222" stroke-width="0.9" />
<circle cx="373.94" cy="420.62" r="1.25" fill="#aa002c"/>
<circle cx="372.61" cy="422.88" r="1.25" fill="#aa002c"/>
<circle cx="375.93" cy="425.00" r="1.25" fill="#aa002c"/>
<circle cx="374.60" cy="433.88" r="1.25" fill="#aa002c"/>
<circle cx="371.28" cy="437.20" r="1.25" fill="#aa002c"/>
<circle cx="374.60" cy="437.86" r="1.25" fill="#aa002c"/>
<circle cx="377.52" cy="436.54" r="1.25" fill="#aa002c"/>
<circle cx="376.19" cy="441.44" r="1.25" fill="#aa002c"/>
<circle cx="372.61" cy="444.10" r="1.25" fill="#aa002c"/>
<circle cx="371.28" cy="451.79" r="1.25" fill="#aa002c"/>
<circle cx="374.60" cy="451.52" r="1.25" fill="#aa002c"/>
<circle cx="377.92" cy="451.79" r="1.25" fill="#aa002c"/>
<circle cx="373.27" cy="454.71" r="1.25" fill="#aa002c"/>
<circle cx="375.93" cy="454.44" r="1.25" fill="#aa002c"/>
<circle cx="374.60" cy="461.07" r="1.25" fill="#aa002c"/>
<circle cx="375.93" cy="462.40" r="1.25" fill="#aa002c"/>
<circle cx="372.61" cy="465.05" r="1.25" fill="#aa002c"/>
<circle cx="376.59" cy="465.32" r="1.25" fill="#aa002c"/>
<circle cx="373.27" cy="469.29" r="1.25" fill="#aa002c"/>
<circle cx="375.26" cy="470.09" r="1.25" fill="#aa002c"/>
<circle cx="372.61" cy="471.68" r="1.25" fill="#aa002c"/>
<circle cx="375.93" cy="472.34" r="1.25" fill="#aa002c"/>
<circle cx="373.01" cy="473.67" r="1.25" fill="#aa002c"/>
<circle cx="375.93" cy="476.32" r="1.25" fill="#aa002c"/>
<circle cx="376.19" cy="477.65" r="1.25" fill="#aa002c"/>
<circle cx="372.61" cy="478.58" r="1.25" fill="#aa002c"/>
<circle cx="373.94" cy="486.01" r="1.25" fill="#aa002c"/>
<circle cx="375.93" cy="486.93" r="1.25" fill="#aa002c"/>
<circle cx="372.61" cy="489.19" r="1.25" fill="#aa002c"/>
<circle cx="370.62" cy="456.43" r="1.25" fill="#aa002c"/>
<circle cx="378.58" cy="456.43" r="1.25" fill="#aa002c"/>
<line x1="368.40" y1="456.43" x2="380.80" y2="456.43" stroke="#111" stroke-width="1.3" />
<rect x="390.77" y="416.21" width="2.20" height="2.20" fill="#aa002c"/>
<rect x="387.05" y="428.41" width="2.20" height="2.20" fill="#aa002c"/>
<rect x="393.95" y="428.80" width="2.20" height="2.20" fill="#aa002c"/>
<rect x="390.77" y="431.06" width="2.20" height="2.20" fill="#aa002c"/>
<rect x="387.32" y="442.07" width="2.20" height="2.20" fill="#aa002c"/>
<rect x="390.77" y="442.73" width="2.20" height="2.20" fill="#aa002c"/>
<rect x="393.95" y="440.74" width="2.20" height="2.20" fill="#aa002c"/>
<rect x="387.32" y="445.12" width="2.20" height="2.20" fill="#aa002c"/>
<rect x="390.37" y="446.71" width="2.20" height="2.20" fill="#aa002c"/>
<rect x="393.68" y="446.44" width="2.20" height="2.20" fill="#aa002c"/>
<rect x="389.04" y="449.10" width="2.20" height="2.20" fill="#aa002c"/>
<rect x="392.36" y="448.70" width="2.20" height="2.20" fill="#aa002c"/>
<rect x="391.30" y="450.69" width="2.20" height="2.20" fill="#aa002c"/>
<rect x="388.38" y="452.28" width="2.20" height="2.20" fill="#aa002c"/>
<rect x="392.36" y="452.68" width="2.20" height="2.20" fill="#aa002c"/>
<rect x="391.03" y="454.00" width="2.20" height="2.20" fill="#aa002c"/>
<rect x="387.71" y="455.33" width="2.20" height="2.20" fill="#aa002c"/>
<rect x="393.95" y="455.33" width="2.20" height="2.20" fill="#aa002c"/>
<rect x="387.05" y="457.58" width="2.20" height="2.20" fill="#aa002c"/>
<rect x="389.70" y="457.98" width="2.20" height="2.20" fill="#aa002c"/>
<rect x="393.02" y="457.58" width="2.20" height="2.20" fill="#aa002c"/>
<rect x="387.71" y="461.96" width="2.20" height="2.20" fill="#aa002c"/>
<rect x="391.03" y="461.56" width="2.20" height="2.20" fill="#aa002c"/>
<rect x="393.95" y="462.62" width="2.20" height="2.20" fill="#aa002c"/>
<rect x="390.37" y="467.93" width="2.20" height="2.20" fill="#aa002c"/>
<rect x="391.03" y="472.17" width="2.20" height="2.20" fill="#aa002c"/>
<rect x="389.04" y="474.30" width="2.20" height="2.20" fill="#aa002c"/>
<rect x="392.36" y="474.83" width="2.20" height="2.20" fill="#aa002c"/>
<rect x="391.69" y="476.55" width="2.20" height="2.20" fill="#aa002c"/>
<rect x="389.04" y="483.18" width="2.20" height="2.20" fill="#aa002c"/>
<rect x="392.09" y="483.18" width="2.20" height="2.20" fill="#aa002c"/>
<line x1="385.40" y1="457.36" x2="397.80" y2="457.36" stroke="#111" stroke-width="1.3" />
<polygon points="408.73,427.01 410.11,429.62 407.36,429.62" fill="#aa002c"/>
<polygon points="408.73,438.02 410.11,440.63 407.36,440.63" fill="#aa002c"/>
<polygon points="407.01,447.30 408.38,449.92 405.63,449.92" fill="#aa002c"/>
<polygon points="410.59,448.63 411.96,451.24 409.21,451.24" fill="#aa002c"/>
<polygon points="408.73,452.21 410.11,454.82 407.36,454.82" fill="#aa002c"/>
<polygon points="408.73,455.26 410.11,457.87 407.36,457.87" fill="#aa002c"/>
<polygon points="405.28,457.91 406.66,460.53 403.91,460.53" fill="#aa002c"/>
<polygon points="408.73,460.83 410.11,463.44 407.36,463.44" fill="#aa002c"/>
<polygon points="411.92,459.24 413.29,461.85 410.54,461.85" fill="#aa002c"/>
<polygon points="407.01,463.48 408.38,466.10 405.63,466.10" fill="#aa002c"/>
<polygon points="410.59,464.15 411.96,466.76 409.21,466.76" fill="#aa002c"/>
<polygon points="407.01,465.47 408.38,468.08 405.63,468.08" fill="#aa002c"/>
<polygon points="410.59,465.47 411.96,468.08 409.21,468.08" fill="#aa002c"/>
<polygon points="410.59,472.10 411.96,474.72 409.21,474.72" fill="#aa002c"/>
<polygon points="405.28,475.42 406.66,478.03 403.91,478.03" fill="#aa002c"/>
<polygon points="408.73,478.07 410.11,480.68 407.36,480.68" fill="#aa002c"/>
<polygon points="411.92,478.07 413.29,480.68 410.54,480.68" fill="#aa002c"/>
<polygon points="407.01,482.71 408.38,485.33 405.63,485.33" fill="#aa002c"/>
<polygon points="410.59,483.38 411.96,485.99 409.21,485.99" fill="#aa002c"/>
<polygon points="407.01,484.04 408.38,486.65 405.63,486.65" fill="#aa002c"/>
<polygon points="410.59,484.97 411.96,487.58 409.21,487.58" fill="#aa002c"/>
<polygon points="407.01,487.09 408.38,489.70 405.63,489.70" fill="#aa002c"/>
<polygon points="406.35,468.79 407.72,471.40 404.97,471.40" fill="#aa002c"/>
<polygon points="411.65,468.79 413.03,471.40 410.28,471.40" fill="#aa002c"/>
<line x1="402.40" y1="470.36" x2="414.80" y2="470.36" stroke="#111" stroke-width="1.3" />
<polygon points="425.37,432.40 426.74,429.79 423.99,429.79" fill="#aa002c"/>
<polygon points="424.04,447.39 425.42,444.77 422.67,444.77" fill="#aa002c"/>
<polygon points="427.36,446.06 428.73,443.45 425.98,443.45" fill="#aa002c"/>
<polygon points="424.04,461.58 425.42,458.97 422.67,458.97" fill="#aa002c"/>
<polygon points="427.36,461.58 428.73,458.97 425.98,458.97" fill="#aa002c"/>
<polygon points="424.04,466.62 425.42,464.01 422.67,464.01" fill="#aa002c"/>
<polygon points="427.36,465.95 428.73,463.34 425.98,463.34" fill="#aa002c"/>
<polygon points="427.36,471.26 428.73,468.65 425.98,468.65" fill="#aa002c"/>
<polygon points="425.37,475.24 426.74,472.63 423.99,472.63" fill="#aa002c"/>
<polygon points="422.32,478.29 423.69,475.68 420.94,475.68" fill="#aa002c"/>
<polygon points="425.37,479.22 426.74,476.60 423.99,476.60" fill="#aa002c"/>
<polygon points="428.95,478.29 430.32,475.68 427.57,475.68" fill="#aa002c"/>
<polygon points="424.04,483.20 425.42,480.58 422.67,480.58" fill="#aa002c"/>
<polygon points="427.36,482.80 428.73,480.19 425.98,480.19" fill="#aa002c"/>
<polygon points="424.04,487.17 425.42,484.56 422.67,484.56" fill="#aa002c"/>
<polygon points="427.09,487.84 428.47,485.23 425.72,485.23" fill="#aa002c"/>
<polygon points="424.04,489.43 425.42,486.82 422.67,486.82" fill="#aa002c"/>
<polygon points="422.32,493.81 423.69,491.19 420.94,491.19" fill="#aa002c"/>
<polygon points="425.37,492.88 426.74,490.27 423.99,490.27" fill="#aa002c"/>
<polygon points="428.95,494.47 430.32,491.86 427.57,491.86" fill="#aa002c"/>
<polygon points="425.37,496.86 426.74,494.24 423.99,494.24" fill="#aa002c"/>
<polygon points="427.09,490.49 428.47,487.88 425.72,487.88" fill="#aa002c"/>
<polygon points="422.05,486.11 423.43,483.50 420.68,483.50" fill="#aa002c"/>
<polygon points="429.35,486.11 430.72,483.50 427.97,483.50" fill="#aa002c"/>
<line x1="419.50" y1="484.55" x2="431.90" y2="484.55" stroke="#111" stroke-width="1.3" />
<line x1="78.40" y1="525.20" x2="78.40" y2="620.80" stroke="#222" stroke-width="1.2" />
<line x1="77.80" y1="620.20" x2="146.90" y2="620.20" stroke="#222" stroke-width="1.2" />
<line x1="75.40" y1="620.20" x2="78.40" y2="620.20" stroke="#222" stroke-width="0.9" />
<text x="72.20" y="622.40" font-size="6.2" text-anchor="end" fill="#444" >1</text>
<line x1="75.40" y1="573.75" x2="78.40" y2="573.75" stroke="#222" stroke-width="0.9" />
<text x="72.20" y="575.95" font-size="6.2" text-anchor="end" fill="#444" >10</text>
<line x1="75.40" y1="527.30" x2="78.40" y2="527.30" stroke="#222" stroke-width="0.9" />
<text x="72.20" y="529.50" font-size="6.2" text-anchor="end" fill="#444" >100</text>
<line x1="76.60" y1="606.22" x2="78.40" y2="606.22" stroke="#222" stroke-width="0.6" />
<line x1="76.60" y1="598.04" x2="78.40" y2="598.04" stroke="#222" stroke-width="0.6" />
<line x1="76.60" y1="592.23" x2="78.40" y2="592.23" stroke="#222" stroke-width="0.6" />
<line x1="76.60" y1="587.73" x2="78.40" y2="587.73" stroke="#222" stroke-width="0.6" />
<line x1="76.60" y1="584.05" x2="78.40" y2="584.05" stroke="#222" stroke-width="0.6" />
<line x1="76.60" y1="580.95" x2="78.40" y2="580.95" stroke="#222" stroke-width="0.6" />
<line x1="76.60" y1="578.25" x2="78.40" y2="578.25" stroke="#222" stroke-width="0.6" />
<line x1="76.60" y1="575.88" x2="78.40" y2="575.88" stroke="#222" stroke-width="0.6" />
<line x1="76.60" y1="559.77" x2="78.40" y2="559.77" stroke="#222" stroke-width="0.6" />
<line x1="76.60" y1="551.59" x2="78.40" y2="551.59" stroke="#222" stroke-width="0.6" />
<line x1="76.60" y1="545.78" x2="78.40" y2="545.78" stroke="#222" stroke-width="0.6" />
<line x1="76.60" y1="541.28" x2="78.40" y2="541.28" stroke="#222" stroke-width="0.6" />
<line x1="76.60" y1="537.60" x2="78.40" y2="537.60" stroke="#222" stroke-width="0.6" />
<line x1="76.60" y1="534.50" x2="78.40" y2="534.50" stroke="#222" stroke-width="0.6" />
<line x1="76.60" y1="531.80" x2="78.40" y2="531.80" stroke="#222" stroke-width="0.6" />
<line x1="76.60" y1="529.43" x2="78.40" y2="529.43" stroke="#222" stroke-width="0.6" />
<line x1="87.00" y1="620.20" x2="87.00" y2="622.60" stroke="#222" stroke-width="0.9" />
<text x="87.00" y="632.40" font-size="6.3" text-anchor="middle" fill="#444" >D0</text>
<line x1="104.00" y1="620.20" x2="104.00" y2="622.60" stroke="#222" stroke-width="0.9" />
<text x="104.00" y="632.40" font-size="6.3" text-anchor="middle" fill="#444" >D7</text>
<line x1="121.00" y1="620.20" x2="121.00" y2="622.60" stroke="#222" stroke-width="0.9" />
<text x="121.00" y="632.40" font-size="6.3" text-anchor="middle" fill="#444" >D28</text>
<line x1="138.10" y1="620.20" x2="138.10" y2="622.60" stroke="#222" stroke-width="0.9" />
<text x="138.10" y="632.40" font-size="6.3" text-anchor="middle" fill="#444" >end</text>
<circle cx="83.09" cy="554.28" r="1.25" fill="#aa002c"/>
<circle cx="86.67" cy="556.54" r="1.25" fill="#aa002c"/>
<circle cx="89.98" cy="555.61" r="1.25" fill="#aa002c"/>
<circle cx="84.94" cy="560.51" r="1.25" fill="#aa002c"/>
<circle cx="88.66" cy="561.44" r="1.25" fill="#aa002c"/>
<circle cx="84.94" cy="565.16" r="1.25" fill="#aa002c"/>
<circle cx="88.66" cy="564.49" r="1.25" fill="#aa002c"/>
<circle cx="86.67" cy="569.14" r="1.25" fill="#aa002c"/>
<circle cx="84.94" cy="570.73" r="1.25" fill="#aa002c"/>
<circle cx="82.69" cy="571.52" r="1.25" fill="#aa002c"/>
<circle cx="88.39" cy="571.52" r="1.25" fill="#aa002c"/>
<circle cx="89.98" cy="571.79" r="1.25" fill="#aa002c"/>
<circle cx="86.67" cy="572.45" r="1.25" fill="#aa002c"/>
<circle cx="83.09" cy="576.43" r="1.25" fill="#aa002c"/>
<circle cx="86.67" cy="577.09" r="1.25" fill="#aa002c"/>
<circle cx="89.98" cy="578.15" r="1.25" fill="#aa002c"/>
<circle cx="84.94" cy="581.07" r="1.25" fill="#aa002c"/>
<circle cx="88.39" cy="581.73" r="1.25" fill="#aa002c"/>
<circle cx="84.94" cy="582.40" r="1.25" fill="#aa002c"/>
<circle cx="88.39" cy="583.46" r="1.25" fill="#aa002c"/>
<circle cx="84.94" cy="589.03" r="1.25" fill="#aa002c"/>
<circle cx="88.39" cy="587.70" r="1.25" fill="#aa002c"/>
<circle cx="83.09" cy="595.66" r="1.25" fill="#aa002c"/>
<circle cx="86.67" cy="596.72" r="1.25" fill="#aa002c"/>
<circle cx="89.98" cy="595.00" r="1.25" fill="#aa002c"/>
<circle cx="86.67" cy="603.35" r="1.25" fill="#aa002c"/>
<circle cx="86.67" cy="607.86" r="1.25" fill="#aa002c"/>
<circle cx="82.69" cy="574.18" r="1.25" fill="#aa002c"/>
<circle cx="91.31" cy="574.18" r="1.25" fill="#aa002c"/>
<line x1="80.80" y1="574.18" x2="93.20" y2="574.18" stroke="#111" stroke-width="1.3" />
<rect x="102.90" y="543.50" width="2.20" height="2.20" fill="#aa002c"/>
<rect x="102.90" y="553.45" width="2.20" height="2.20" fill="#aa002c"/>
<rect x="100.65" y="557.16" width="2.20" height="2.20" fill="#aa002c"/>
<rect x="104.62" y="556.76" width="2.20" height="2.20" fill="#aa002c"/>
<rect x="99.85" y="560.08" width="2.20" height="2.20" fill="#aa002c"/>
<rect x="102.90" y="560.74" width="2.20" height="2.20" fill="#aa002c"/>
<rect x="106.48" y="559.81" width="2.20" height="2.20" fill="#aa002c"/>
<rect x="102.90" y="564.06" width="2.20" height="2.20" fill="#aa002c"/>
<rect x="100.91" y="568.70" width="2.20" height="2.20" fill="#aa002c"/>
<rect x="104.62" y="570.69" width="2.20" height="2.20" fill="#aa002c"/>
<rect x="100.91" y="574.40" width="2.20" height="2.20" fill="#aa002c"/>
<rect x="99.58" y="580.63" width="2.20" height="2.20" fill="#aa002c"/>
<rect x="102.90" y="580.24" width="2.20" height="2.20" fill="#aa002c"/>
<rect x="106.22" y="581.03" width="2.20" height="2.20" fill="#aa002c"/>
<rect x="104.89" y="579.31" width="2.20" height="2.20" fill="#aa002c"/>
<rect x="102.90" y="589.26" width="2.20" height="2.20" fill="#aa002c"/>
<rect x="100.91" y="592.17" width="2.20" height="2.20" fill="#aa002c"/>
<rect x="104.23" y="592.17" width="2.20" height="2.20" fill="#aa002c"/>
<rect x="100.91" y="595.22" width="2.20" height="2.20" fill="#aa002c"/>
<rect x="106.22" y="594.83" width="2.20" height="2.20" fill="#aa002c"/>
<rect x="102.90" y="597.21" width="2.20" height="2.20" fill="#aa002c"/>
<rect x="99.58" y="599.87" width="2.20" height="2.20" fill="#aa002c"/>
<rect x="102.90" y="602.52" width="2.20" height="2.20" fill="#aa002c"/>
<rect x="105.95" y="601.85" width="2.20" height="2.20" fill="#aa002c"/>
<rect x="102.90" y="607.82" width="2.20" height="2.20" fill="#aa002c"/>
<rect x="100.91" y="611.14" width="2.20" height="2.20" fill="#aa002c"/>
<rect x="104.23" y="611.14" width="2.20" height="2.20" fill="#aa002c"/>
<rect x="98.26" y="583.29" width="2.20" height="2.20" fill="#aa002c"/>
<rect x="107.54" y="583.29" width="2.20" height="2.20" fill="#aa002c"/>
<line x1="97.80" y1="584.39" x2="110.20" y2="584.39" stroke="#111" stroke-width="1.3" />
<polygon points="120.67,536.12 122.04,538.74 119.29,538.74" fill="#aa002c"/>
<polygon points="120.67,540.63 122.04,543.25 119.29,543.25" fill="#aa002c"/>
<polygon points="122.66,541.43 124.03,544.04 121.28,544.04" fill="#aa002c"/>
<polygon points="118.94,543.02 120.32,545.63 117.57,545.63" fill="#aa002c"/>
<polygon points="118.94,544.61 120.32,547.23 117.57,547.23" fill="#aa002c"/>
<polygon points="122.39,546.34 123.77,548.95 121.02,548.95" fill="#aa002c"/>
<polygon points="118.94,553.63 120.32,556.24 117.57,556.24" fill="#aa002c"/>
<polygon points="117.09,555.62 118.46,558.23 115.71,558.23" fill="#aa002c"/>
<polygon points="121.07,554.96 122.44,557.57 119.69,557.57" fill="#aa002c"/>
<polygon points="123.98,556.28 125.36,558.90 122.61,558.90" fill="#aa002c"/>
<polygon points="118.94,557.88 120.32,560.49 117.57,560.49" fill="#aa002c"/>
<polygon points="122.39,557.34 123.77,559.96 121.02,559.96" fill="#aa002c"/>
<polygon points="117.09,560.93 118.46,563.54 115.71,563.54" fill="#aa002c"/>
<polygon points="120.67,560.53 122.04,563.14 119.29,563.14" fill="#aa002c"/>
<polygon points="122.92,560.93 124.30,563.54 121.55,563.54" fill="#aa002c"/>
<polygon points="118.94,566.23 120.32,568.84 117.57,568.84" fill="#aa002c"/>
<polygon points="122.66,566.63 124.03,569.24 121.28,569.24" fill="#aa002c"/>
<polygon points="120.67,570.21 122.04,572.82 119.29,572.82" fill="#aa002c"/>
<polygon points="117.09,575.12 118.46,577.73 115.71,577.73" fill="#aa002c"/>
<polygon points="120.67,574.59 122.04,577.20 119.29,577.20" fill="#aa002c"/>
<polygon points="120.67,577.77 122.04,580.38 119.29,580.38" fill="#aa002c"/>
<polygon points="123.98,577.50 125.36,580.12 122.61,580.12" fill="#aa002c"/>
<polygon points="118.94,580.16 120.32,582.77 117.57,582.77" fill="#aa002c"/>
<polygon points="122.66,581.22 124.03,583.83 121.28,583.83" fill="#aa002c"/>
<polygon points="120.67,600.32 122.04,602.93 119.29,602.93" fill="#aa002c"/>
<polygon points="116.03,563.18 117.40,565.79 114.65,565.79" fill="#aa002c"/>
<polygon points="125.97,563.18 127.35,565.79 124.60,565.79" fill="#aa002c"/>
<line x1="114.80" y1="564.75" x2="127.20" y2="564.75" stroke="#111" stroke-width="1.3" />
<polygon points="139.49,537.14 140.87,534.53 138.12,534.53" fill="#aa002c"/>
<polygon points="135.78,539.26 137.15,536.65 134.40,536.65" fill="#aa002c"/>
<polygon points="136.04,544.56 137.42,541.95 134.67,541.95" fill="#aa002c"/>
<polygon points="139.49,544.56 140.87,541.95 138.12,541.95" fill="#aa002c"/>
<polygon points="138.43,550.14 139.81,547.52 137.06,547.52" fill="#aa002c"/>
<polygon points="136.04,552.12 137.42,549.51 134.67,549.51" fill="#aa002c"/>
<polygon points="139.49,552.52 140.87,549.91 138.12,549.91" fill="#aa002c"/>
<polygon points="141.35,555.17 142.72,552.56 139.97,552.56" fill="#aa002c"/>
<polygon points="134.45,556.77 135.83,554.15 133.08,554.15" fill="#aa002c"/>
<polygon points="137.77,557.03 139.14,554.42 136.39,554.42" fill="#aa002c"/>
<polygon points="134.45,560.08 135.83,557.47 133.08,557.47" fill="#aa002c"/>
<polygon points="134.45,571.36 135.83,568.74 133.08,568.74" fill="#aa002c"/>
<polygon points="138.43,570.69 139.81,568.08 137.06,568.08" fill="#aa002c"/>
<polygon points="141.08,570.69 142.46,568.08 139.71,568.08" fill="#aa002c"/>
<polygon points="135.78,576.00 137.15,573.38 134.40,573.38" fill="#aa002c"/>
<polygon points="139.49,577.32 140.87,574.71 138.12,574.71" fill="#aa002c"/>
<polygon points="136.04,579.58 137.42,576.97 134.67,576.97" fill="#aa002c"/>
<polygon points="139.49,580.37 140.87,577.76 138.12,577.76" fill="#aa002c"/>
<polygon points="137.77,586.21 139.14,583.60 136.39,583.60" fill="#aa002c"/>
<polygon points="137.77,591.91 139.14,589.30 136.39,589.30" fill="#aa002c"/>
<polygon points="139.09,596.55 140.47,593.94 137.72,593.94" fill="#aa002c"/>
<polygon points="136.04,598.94 137.42,596.33 134.67,596.33" fill="#aa002c"/>
<polygon points="133.13,562.34 134.50,559.72 131.75,559.72" fill="#aa002c"/>
<polygon points="143.07,562.34 144.45,559.72 141.70,559.72" fill="#aa002c"/>
<line x1="131.90" y1="560.77" x2="144.30" y2="560.77" stroke="#111" stroke-width="1.3" />
<line x1="174.90" y1="525.20" x2="174.90" y2="620.80" stroke="#222" stroke-width="1.2" />
<line x1="174.30" y1="620.20" x2="243.40" y2="620.20" stroke="#222" stroke-width="1.2" />
<line x1="171.90" y1="620.20" x2="174.90" y2="620.20" stroke="#222" stroke-width="0.9" />
<text x="168.70" y="622.40" font-size="6.2" text-anchor="end" fill="#444" >1</text>
<line x1="171.90" y1="573.75" x2="174.90" y2="573.75" stroke="#222" stroke-width="0.9" />
<text x="168.70" y="575.95" font-size="6.2" text-anchor="end" fill="#444" >10</text>
<line x1="171.90" y1="527.30" x2="174.90" y2="527.30" stroke="#222" stroke-width="0.9" />
<text x="168.70" y="529.50" font-size="6.2" text-anchor="end" fill="#444" >100</text>
<line x1="173.10" y1="606.22" x2="174.90" y2="606.22" stroke="#222" stroke-width="0.6" />
<line x1="173.10" y1="598.04" x2="174.90" y2="598.04" stroke="#222" stroke-width="0.6" />
<line x1="173.10" y1="592.23" x2="174.90" y2="592.23" stroke="#222" stroke-width="0.6" />
<line x1="173.10" y1="587.73" x2="174.90" y2="587.73" stroke="#222" stroke-width="0.6" />
<line x1="173.10" y1="584.05" x2="174.90" y2="584.05" stroke="#222" stroke-width="0.6" />
<line x1="173.10" y1="580.95" x2="174.90" y2="580.95" stroke="#222" stroke-width="0.6" />
<line x1="173.10" y1="578.25" x2="174.90" y2="578.25" stroke="#222" stroke-width="0.6" />
<line x1="173.10" y1="575.88" x2="174.90" y2="575.88" stroke="#222" stroke-width="0.6" />
<line x1="173.10" y1="559.77" x2="174.90" y2="559.77" stroke="#222" stroke-width="0.6" />
<line x1="173.10" y1="551.59" x2="174.90" y2="551.59" stroke="#222" stroke-width="0.6" />
<line x1="173.10" y1="545.78" x2="174.90" y2="545.78" stroke="#222" stroke-width="0.6" />
<line x1="173.10" y1="541.28" x2="174.90" y2="541.28" stroke="#222" stroke-width="0.6" />
<line x1="173.10" y1="537.60" x2="174.90" y2="537.60" stroke="#222" stroke-width="0.6" />
<line x1="173.10" y1="534.50" x2="174.90" y2="534.50" stroke="#222" stroke-width="0.6" />
<line x1="173.10" y1="531.80" x2="174.90" y2="531.80" stroke="#222" stroke-width="0.6" />
<line x1="173.10" y1="529.43" x2="174.90" y2="529.43" stroke="#222" stroke-width="0.6" />
<line x1="183.50" y1="620.20" x2="183.50" y2="622.60" stroke="#222" stroke-width="0.9" />
<text x="183.50" y="632.40" font-size="6.3" text-anchor="middle" fill="#444" >D0</text>
<line x1="200.50" y1="620.20" x2="200.50" y2="622.60" stroke="#222" stroke-width="0.9" />
<text x="200.50" y="632.40" font-size="6.3" text-anchor="middle" fill="#444" >D7</text>
<line x1="217.50" y1="620.20" x2="217.50" y2="622.60" stroke="#222" stroke-width="0.9" />
<text x="217.50" y="632.40" font-size="6.3" text-anchor="middle" fill="#444" >D28</text>
<line x1="234.60" y1="620.20" x2="234.60" y2="622.60" stroke="#222" stroke-width="0.9" />
<text x="234.60" y="632.40" font-size="6.3" text-anchor="middle" fill="#444" >end</text>
<circle cx="179.59" cy="545.65" r="1.25" fill="#aa002c"/>
<circle cx="183.57" cy="547.51" r="1.25" fill="#aa002c"/>
<circle cx="186.48" cy="546.58" r="1.25" fill="#aa002c"/>
<circle cx="183.17" cy="550.95" r="1.25" fill="#aa002c"/>
<circle cx="179.85" cy="553.61" r="1.25" fill="#aa002c"/>
<circle cx="186.48" cy="554.14" r="1.25" fill="#aa002c"/>
<circle cx="183.17" cy="555.46" r="1.25" fill="#aa002c"/>
<circle cx="181.44" cy="557.19" r="1.25" fill="#aa002c"/>
<circle cx="185.16" cy="556.53" r="1.25" fill="#aa002c"/>
<circle cx="181.44" cy="558.12" r="1.25" fill="#aa002c"/>
<circle cx="186.48" cy="559.84" r="1.25" fill="#aa002c"/>
<circle cx="179.59" cy="559.84" r="1.25" fill="#aa002c"/>
<circle cx="183.17" cy="561.83" r="1.25" fill="#aa002c"/>
<circle cx="186.48" cy="563.16" r="1.25" fill="#aa002c"/>
<circle cx="179.85" cy="564.75" r="1.25" fill="#aa002c"/>
<circle cx="183.57" cy="565.54" r="1.25" fill="#aa002c"/>
<circle cx="183.17" cy="571.78" r="1.25" fill="#aa002c"/>
<circle cx="181.44" cy="572.18" r="1.25" fill="#aa002c"/>
<circle cx="184.89" cy="572.71" r="1.25" fill="#aa002c"/>
<circle cx="179.85" cy="575.09" r="1.25" fill="#aa002c"/>
<circle cx="184.89" cy="575.76" r="1.25" fill="#aa002c"/>
<circle cx="181.44" cy="578.41" r="1.25" fill="#aa002c"/>
<circle cx="186.48" cy="579.07" r="1.25" fill="#aa002c"/>
<circle cx="179.59" cy="579.73" r="1.25" fill="#aa002c"/>
<circle cx="183.57" cy="581.06" r="1.25" fill="#aa002c"/>
<circle cx="181.44" cy="583.05" r="1.25" fill="#aa002c"/>
<circle cx="184.89" cy="582.79" r="1.25" fill="#aa002c"/>
<circle cx="183.17" cy="584.64" r="1.25" fill="#aa002c"/>
<circle cx="181.44" cy="587.69" r="1.25" fill="#aa002c"/>
<circle cx="185.16" cy="589.02" r="1.25" fill="#aa002c"/>
<circle cx="183.17" cy="592.60" r="1.25" fill="#aa002c"/>
<circle cx="178.53" cy="569.12" r="1.25" fill="#aa002c"/>
<circle cx="188.47" cy="569.12" r="1.25" fill="#aa002c"/>
<line x1="177.30" y1="569.12" x2="189.70" y2="569.12" stroke="#111" stroke-width="1.3" />
<rect x="197.08" y="548.79" width="2.20" height="2.20" fill="#aa002c"/>
<rect x="200.79" y="550.78" width="2.20" height="2.20" fill="#aa002c"/>
<rect x="199.07" y="556.49" width="2.20" height="2.20" fill="#aa002c"/>
<rect x="199.07" y="560.46" width="2.20" height="2.20" fill="#aa002c"/>
<rect x="197.08" y="562.32" width="2.20" height="2.20" fill="#aa002c"/>
<rect x="200.79" y="563.12" width="2.20" height="2.20" fill="#aa002c"/>
<rect x="197.08" y="564.97" width="2.20" height="2.20" fill="#aa002c"/>
<rect x="199.07" y="564.05" width="2.20" height="2.20" fill="#aa002c"/>
<rect x="195.49" y="568.42" width="2.20" height="2.20" fill="#aa002c"/>
<rect x="199.07" y="568.69" width="2.20" height="2.20" fill="#aa002c"/>
<rect x="202.12" y="568.42" width="2.20" height="2.20" fill="#aa002c"/>
<rect x="197.08" y="571.08" width="2.20" height="2.20" fill="#aa002c"/>
<rect x="200.39" y="571.08" width="2.20" height="2.20" fill="#aa002c"/>
<rect x="195.49" y="575.98" width="2.20" height="2.20" fill="#aa002c"/>
<rect x="199.07" y="575.58" width="2.20" height="2.20" fill="#aa002c"/>
<rect x="202.38" y="575.58" width="2.20" height="2.20" fill="#aa002c"/>
<rect x="197.08" y="578.24" width="2.20" height="2.20" fill="#aa002c"/>
<rect x="200.39" y="579.03" width="2.20" height="2.20" fill="#aa002c"/>
<rect x="197.08" y="581.29" width="2.20" height="2.20" fill="#aa002c"/>
<rect x="200.39" y="581.29" width="2.20" height="2.20" fill="#aa002c"/>
<rect x="197.08" y="584.34" width="2.20" height="2.20" fill="#aa002c"/>
<rect x="200.39" y="584.60" width="2.20" height="2.20" fill="#aa002c"/>
<rect x="197.08" y="587.26" width="2.20" height="2.20" fill="#aa002c"/>
<rect x="200.39" y="587.92" width="2.20" height="2.20" fill="#aa002c"/>
<rect x="197.08" y="590.17" width="2.20" height="2.20" fill="#aa002c"/>
<rect x="200.39" y="590.17" width="2.20" height="2.20" fill="#aa002c"/>
<rect x="199.07" y="596.54" width="2.20" height="2.20" fill="#aa002c"/>
<rect x="199.07" y="601.58" width="2.20" height="2.20" fill="#aa002c"/>
<rect x="194.43" y="574.66" width="2.20" height="2.20" fill="#aa002c"/>
<rect x="204.37" y="574.66" width="2.20" height="2.20" fill="#aa002c"/>
<line x1="194.30" y1="575.76" x2="206.70" y2="575.76" stroke="#111" stroke-width="1.3" />
<polygon points="215.44,541.03 216.82,543.64 214.07,543.64" fill="#aa002c"/>
<polygon points="219.16,541.43 220.53,544.04 217.78,544.04" fill="#aa002c"/>
<polygon points="215.44,543.02 216.82,545.63 214.07,545.63" fill="#aa002c"/>
<polygon points="213.85,549.39 215.23,552.00 212.48,552.00" fill="#aa002c"/>
<polygon points="217.83,549.39 219.21,552.00 216.46,552.00" fill="#aa002c"/>
<polygon points="220.48,548.06 221.86,550.67 219.11,550.67" fill="#aa002c"/>
<polygon points="217.17,550.98 218.54,553.59 215.79,553.59" fill="#aa002c"/>
<polygon points="215.44,552.97 216.82,555.58 214.07,555.58" fill="#aa002c"/>
<polygon points="218.89,553.63 220.27,556.24 217.52,556.24" fill="#aa002c"/>
<polygon points="217.17,560.26 218.54,562.88 215.79,562.88" fill="#aa002c"/>
<polygon points="215.44,562.25 216.82,564.86 214.07,564.86" fill="#aa002c"/>
<polygon points="219.16,562.65 220.53,565.26 217.78,565.26" fill="#aa002c"/>
<polygon points="213.59,563.98 214.96,566.59 212.21,566.59" fill="#aa002c"/>
<polygon points="220.48,563.58 221.86,566.19 219.11,566.19" fill="#aa002c"/>
<polygon points="217.17,564.90 218.54,567.52 215.79,567.52" fill="#aa002c"/>
<polygon points="215.44,567.56 216.82,570.17 214.07,570.17" fill="#aa002c"/>
<polygon points="219.16,566.89 220.53,569.51 217.78,569.51" fill="#aa002c"/>
<polygon points="215.44,569.55 216.82,572.16 214.07,572.16" fill="#aa002c"/>
<polygon points="219.16,570.87 220.53,573.49 217.78,573.49" fill="#aa002c"/>
<polygon points="215.44,572.20 216.82,574.81 214.07,574.81" fill="#aa002c"/>
<polygon points="219.16,573.26 220.53,575.87 217.78,575.87" fill="#aa002c"/>
<polygon points="215.44,575.12 216.82,577.73 214.07,577.73" fill="#aa002c"/>
<polygon points="212.53,555.22 213.90,557.84 211.15,557.84" fill="#aa002c"/>
<polygon points="222.47,555.22 223.85,557.84 221.10,557.84" fill="#aa002c"/>
<line x1="211.30" y1="556.79" x2="223.70" y2="556.79" stroke="#111" stroke-width="1.3" />
<polygon points="234.27,539.26 235.64,536.65 232.89,536.65" fill="#aa002c"/>
<polygon points="232.28,541.51 233.65,538.90 230.90,538.90" fill="#aa002c"/>
<polygon points="235.99,543.50 237.37,540.89 234.62,540.89" fill="#aa002c"/>
<polygon points="230.95,545.10 232.33,542.48 229.58,542.48" fill="#aa002c"/>
<polygon points="234.27,545.89 235.64,543.28 232.89,543.28" fill="#aa002c"/>
<polygon points="237.58,546.42 238.96,543.81 236.21,543.81" fill="#aa002c"/>
<polygon points="234.27,548.15 235.64,545.53 232.89,545.53" fill="#aa002c"/>
<polygon points="231.22,550.14 232.59,547.52 229.84,547.52" fill="#aa002c"/>
<polygon points="234.93,550.14 236.31,547.52 233.56,547.52" fill="#aa002c"/>
<polygon points="237.58,550.40 238.96,547.79 236.21,547.79" fill="#aa002c"/>
<polygon points="232.28,552.52 233.65,549.91 230.90,549.91" fill="#aa002c"/>
<polygon points="235.99,552.52 237.37,549.91 234.62,549.91" fill="#aa002c"/>
<polygon points="232.28,554.38 233.65,551.77 230.90,551.77" fill="#aa002c"/>
<polygon points="230.95,556.77 232.33,554.15 229.58,554.15" fill="#aa002c"/>
<polygon points="237.58,556.50 238.96,553.89 236.21,553.89" fill="#aa002c"/>
<polygon points="234.27,558.09 235.64,555.48 232.89,555.48" fill="#aa002c"/>
<polygon points="232.28,560.75 233.65,558.13 230.90,558.13" fill="#aa002c"/>
<polygon points="235.99,560.75 237.37,558.13 234.62,558.13" fill="#aa002c"/>
<polygon points="232.28,567.11 233.65,564.50 230.90,564.50" fill="#aa002c"/>
<polygon points="232.28,569.37 233.65,566.75 230.90,566.75" fill="#aa002c"/>
<polygon points="235.99,569.37 237.37,566.75 234.62,566.75" fill="#aa002c"/>
<polygon points="232.28,573.74 233.65,571.13 230.90,571.13" fill="#aa002c"/>
<polygon points="235.99,572.95 237.37,570.33 234.62,570.33" fill="#aa002c"/>
<polygon points="235.59,576.93 236.97,574.31 234.22,574.31" fill="#aa002c"/>
<polygon points="234.27,581.97 235.64,579.35 232.89,579.35" fill="#aa002c"/>
<polygon points="229.63,558.76 231.00,556.14 228.25,556.14" fill="#aa002c"/>
<polygon points="239.57,558.76 240.95,556.14 238.20,556.14" fill="#aa002c"/>
<line x1="228.40" y1="557.19" x2="240.80" y2="557.19" stroke="#111" stroke-width="1.3" />
<line x1="270.50" y1="525.20" x2="270.50" y2="620.80" stroke="#222" stroke-width="1.2" />
<line x1="269.90" y1="620.20" x2="339.00" y2="620.20" stroke="#222" stroke-width="1.2" />
<line x1="267.50" y1="620.20" x2="270.50" y2="620.20" stroke="#222" stroke-width="0.9" />
<text x="264.30" y="622.40" font-size="6.2" text-anchor="end" fill="#444" >1</text>
<line x1="267.50" y1="573.75" x2="270.50" y2="573.75" stroke="#222" stroke-width="0.9" />
<text x="264.30" y="575.95" font-size="6.2" text-anchor="end" fill="#444" >10</text>
<line x1="267.50" y1="527.30" x2="270.50" y2="527.30" stroke="#222" stroke-width="0.9" />
<text x="264.30" y="529.50" font-size="6.2" text-anchor="end" fill="#444" >100</text>
<line x1="268.70" y1="606.22" x2="270.50" y2="606.22" stroke="#222" stroke-width="0.6" />
<line x1="268.70" y1="598.04" x2="270.50" y2="598.04" stroke="#222" stroke-width="0.6" />
<line x1="268.70" y1="592.23" x2="270.50" y2="592.23" stroke="#222" stroke-width="0.6" />
<line x1="268.70" y1="587.73" x2="270.50" y2="587.73" stroke="#222" stroke-width="0.6" />
<line x1="268.70" y1="584.05" x2="270.50" y2="584.05" stroke="#222" stroke-width="0.6" />
<line x1="268.70" y1="580.95" x2="270.50" y2="580.95" stroke="#222" stroke-width="0.6" />
<line x1="268.70" y1="578.25" x2="270.50" y2="578.25" stroke="#222" stroke-width="0.6" />
<line x1="268.70" y1="575.88" x2="270.50" y2="575.88" stroke="#222" stroke-width="0.6" />
<line x1="268.70" y1="559.77" x2="270.50" y2="559.77" stroke="#222" stroke-width="0.6" />
<line x1="268.70" y1="551.59" x2="270.50" y2="551.59" stroke="#222" stroke-width="0.6" />
<line x1="268.70" y1="545.78" x2="270.50" y2="545.78" stroke="#222" stroke-width="0.6" />
<line x1="268.70" y1="541.28" x2="270.50" y2="541.28" stroke="#222" stroke-width="0.6" />
<line x1="268.70" y1="537.60" x2="270.50" y2="537.60" stroke="#222" stroke-width="0.6" />
<line x1="268.70" y1="534.50" x2="270.50" y2="534.50" stroke="#222" stroke-width="0.6" />
<line x1="268.70" y1="531.80" x2="270.50" y2="531.80" stroke="#222" stroke-width="0.6" />
<line x1="268.70" y1="529.43" x2="270.50" y2="529.43" stroke="#222" stroke-width="0.6" />
<line x1="279.10" y1="620.20" x2="279.10" y2="622.60" stroke="#222" stroke-width="0.9" />
<text x="279.10" y="632.40" font-size="6.3" text-anchor="middle" fill="#444" >D0</text>
<line x1="296.10" y1="620.20" x2="296.10" y2="622.60" stroke="#222" stroke-width="0.9" />
<text x="296.10" y="632.40" font-size="6.3" text-anchor="middle" fill="#444" >D7</text>
<line x1="313.10" y1="620.20" x2="313.10" y2="622.60" stroke="#222" stroke-width="0.9" />
<text x="313.10" y="632.40" font-size="6.3" text-anchor="middle" fill="#444" >D28</text>
<line x1="330.20" y1="620.20" x2="330.20" y2="622.60" stroke="#222" stroke-width="0.9" />
<text x="330.20" y="632.40" font-size="6.3" text-anchor="middle" fill="#444" >end</text>
<circle cx="278.77" cy="541.85" r="1.25" fill="#aa002c"/>
<circle cx="275.19" cy="552.86" r="1.25" fill="#aa002c"/>
<circle cx="282.08" cy="553.79" r="1.25" fill="#aa002c"/>
<circle cx="277.44" cy="555.51" r="1.25" fill="#aa002c"/>
<circle cx="278.77" cy="558.83" r="1.25" fill="#aa002c"/>
<circle cx="276.12" cy="560.16" r="1.25" fill="#aa002c"/>
<circle cx="280.76" cy="560.16" r="1.25" fill="#aa002c"/>
<circle cx="277.04" cy="561.75" r="1.25" fill="#aa002c"/>
<circle cx="280.49" cy="562.15" r="1.25" fill="#aa002c"/>
<circle cx="278.77" cy="563.47" r="1.25" fill="#aa002c"/>
<circle cx="275.19" cy="566.52" r="1.25" fill="#aa002c"/>
<circle cx="282.08" cy="566.52" r="1.25" fill="#aa002c"/>
<circle cx="277.04" cy="568.11" r="1.25" fill="#aa002c"/>
<circle cx="280.49" cy="568.38" r="1.25" fill="#aa002c"/>
<circle cx="277.04" cy="570.10" r="1.25" fill="#aa002c"/>
<circle cx="280.76" cy="571.43" r="1.25" fill="#aa002c"/>
<circle cx="275.19" cy="572.09" r="1.25" fill="#aa002c"/>
<circle cx="278.77" cy="573.68" r="1.25" fill="#aa002c"/>
<circle cx="281.82" cy="573.15" r="1.25" fill="#aa002c"/>
<circle cx="275.19" cy="578.06" r="1.25" fill="#aa002c"/>
<circle cx="282.08" cy="578.06" r="1.25" fill="#aa002c"/>
<circle cx="275.19" cy="581.11" r="1.25" fill="#aa002c"/>
<circle cx="278.77" cy="580.32" r="1.25" fill="#aa002c"/>
<circle cx="282.08" cy="581.64" r="1.25" fill="#aa002c"/>
<circle cx="278.77" cy="583.76" r="1.25" fill="#aa002c"/>
<circle cx="278.77" cy="587.34" r="1.25" fill="#aa002c"/>
<circle cx="278.77" cy="590.93" r="1.25" fill="#aa002c"/>
<circle cx="274.13" cy="564.80" r="1.25" fill="#aa002c"/>
<circle cx="284.07" cy="564.80" r="1.25" fill="#aa002c"/>
<line x1="272.90" y1="564.80" x2="285.30" y2="564.80" stroke="#111" stroke-width="1.3" />
<rect x="293.01" y="531.87" width="2.20" height="2.20" fill="#aa002c"/>
<rect x="296.33" y="531.87" width="2.20" height="2.20" fill="#aa002c"/>
<rect x="293.01" y="533.86" width="2.20" height="2.20" fill="#aa002c"/>
<rect x="296.33" y="534.52" width="2.20" height="2.20" fill="#aa002c"/>
<rect x="293.01" y="536.24" width="2.20" height="2.20" fill="#aa002c"/>
<rect x="296.33" y="536.51" width="2.20" height="2.20" fill="#aa002c"/>
<rect x="293.01" y="539.16" width="2.20" height="2.20" fill="#aa002c"/>
<rect x="296.33" y="539.16" width="2.20" height="2.20" fill="#aa002c"/>
<rect x="295.00" y="543.80" width="2.20" height="2.20" fill="#aa002c"/>
<rect x="291.68" y="545.79" width="2.20" height="2.20" fill="#aa002c"/>
<rect x="298.58" y="546.46" width="2.20" height="2.20" fill="#aa002c"/>
<rect x="291.42" y="547.78" width="2.20" height="2.20" fill="#aa002c"/>
<rect x="295.00" y="547.12" width="2.20" height="2.20" fill="#aa002c"/>
<rect x="297.25" y="548.45" width="2.20" height="2.20" fill="#aa002c"/>
<rect x="291.68" y="553.75" width="2.20" height="2.20" fill="#aa002c"/>
<rect x="295.00" y="554.02" width="2.20" height="2.20" fill="#aa002c"/>
<rect x="298.32" y="554.81" width="2.20" height="2.20" fill="#aa002c"/>
<rect x="291.42" y="556.67" width="2.20" height="2.20" fill="#aa002c"/>
<rect x="296.72" y="556.40" width="2.20" height="2.20" fill="#aa002c"/>
<rect x="293.01" y="558.39" width="2.20" height="2.20" fill="#aa002c"/>
<rect x="295.00" y="559.72" width="2.20" height="2.20" fill="#aa002c"/>
<rect x="291.68" y="560.65" width="2.20" height="2.20" fill="#aa002c"/>
<rect x="296.33" y="560.65" width="2.20" height="2.20" fill="#aa002c"/>
<rect x="293.01" y="573.38" width="2.20" height="2.20" fill="#aa002c"/>
<rect x="296.33" y="575.24" width="2.20" height="2.20" fill="#aa002c"/>
<rect x="295.00" y="587.57" width="2.20" height="2.20" fill="#aa002c"/>
<rect x="289.69" y="551.76" width="2.20" height="2.20" fill="#aa002c"/>
<rect x="300.31" y="551.76" width="2.20" height="2.20" fill="#aa002c"/>
<line x1="289.90" y1="552.86" x2="302.30" y2="552.86" stroke="#111" stroke-width="1.3" />
<polygon points="312.77,535.38 314.14,537.99 311.39,537.99" fill="#aa002c"/>
<polygon points="312.77,547.32 314.14,549.93 311.39,549.93" fill="#aa002c"/>
<polygon points="311.04,549.04 312.42,551.65 309.67,551.65" fill="#aa002c"/>
<polygon points="313.43,549.97 314.81,552.58 312.06,552.58" fill="#aa002c"/>
<polygon points="311.04,551.96 312.42,554.57 309.67,554.57" fill="#aa002c"/>
<polygon points="314.76,552.62 316.13,555.23 313.38,555.23" fill="#aa002c"/>
<polygon points="312.77,553.95 314.14,556.56 311.39,556.56" fill="#aa002c"/>
<polygon points="311.04,556.20 312.42,558.81 309.67,558.81" fill="#aa002c"/>
<polygon points="314.49,556.20 315.87,558.81 313.12,558.81" fill="#aa002c"/>
<polygon points="312.77,557.53 314.14,560.14 311.39,560.14" fill="#aa002c"/>
<polygon points="311.04,561.24 312.42,563.85 309.67,563.85" fill="#aa002c"/>
<polygon points="316.08,560.98 317.46,563.59 314.71,563.59" fill="#aa002c"/>
<polygon points="309.19,561.24 310.56,563.85 307.81,563.85" fill="#aa002c"/>
<polygon points="311.04,563.23 312.42,565.84 309.67,565.84" fill="#aa002c"/>
<polygon points="314.49,563.23 315.87,565.84 313.12,565.84" fill="#aa002c"/>
<polygon points="311.04,565.22 312.42,567.83 309.67,567.83" fill="#aa002c"/>
<polygon points="314.49,567.21 315.87,569.82 313.12,569.82" fill="#aa002c"/>
<polygon points="309.19,570.26 310.56,572.87 307.81,572.87" fill="#aa002c"/>
<polygon points="312.77,571.85 314.14,574.46 311.39,574.46" fill="#aa002c"/>
<polygon points="316.08,570.79 317.46,573.40 314.71,573.40" fill="#aa002c"/>
<polygon points="311.04,573.84 312.42,576.45 309.67,576.45" fill="#aa002c"/>
<polygon points="314.49,576.49 315.87,579.11 313.12,579.11" fill="#aa002c"/>
<polygon points="312.77,580.47 314.14,583.08 311.39,583.08" fill="#aa002c"/>
<polygon points="308.13,559.92 309.50,562.53 306.75,562.53" fill="#aa002c"/>
<polygon points="318.07,559.92 319.45,562.53 316.70,562.53" fill="#aa002c"/>
<line x1="306.90" y1="561.48" x2="319.30" y2="561.48" stroke="#111" stroke-width="1.3" />
<polygon points="328.21,552.17 329.59,549.56 326.84,549.56" fill="#aa002c"/>
<polygon points="331.92,551.78 333.30,549.16 330.55,549.16" fill="#aa002c"/>
<polygon points="330.20,555.76 331.57,553.14 328.82,553.14" fill="#aa002c"/>
<polygon points="326.62,560.13 327.99,557.52 325.24,557.52" fill="#aa002c"/>
<polygon points="333.78,560.40 335.16,557.79 332.41,557.79" fill="#aa002c"/>
<polygon points="330.20,561.72 331.57,559.11 328.82,559.11" fill="#aa002c"/>
<polygon points="328.21,563.71 329.59,561.10 326.84,561.10" fill="#aa002c"/>
<polygon points="331.92,563.32 333.30,560.70 330.55,560.70" fill="#aa002c"/>
<polygon points="328.21,565.70 329.59,563.09 326.84,563.09" fill="#aa002c"/>
<polygon points="331.92,565.44 333.30,562.83 330.55,562.83" fill="#aa002c"/>
<polygon points="328.21,567.29 329.59,564.68 326.84,564.68" fill="#aa002c"/>
<polygon points="331.92,567.03 333.30,564.42 330.55,564.42" fill="#aa002c"/>
<polygon points="330.20,569.02 331.57,566.41 328.82,566.41" fill="#aa002c"/>
<polygon points="333.78,570.34 335.16,567.73 332.41,567.73" fill="#aa002c"/>
<polygon points="328.21,574.32 329.59,571.71 326.84,571.71" fill="#aa002c"/>
<polygon points="331.92,574.32 333.30,571.71 330.55,571.71" fill="#aa002c"/>
<polygon points="330.20,575.65 331.57,573.04 328.82,573.04" fill="#aa002c"/>
<polygon points="333.78,577.37 335.16,574.76 332.41,574.76" fill="#aa002c"/>
<polygon points="326.62,578.70 327.99,576.09 325.24,576.09" fill="#aa002c"/>
<polygon points="330.20,579.23 331.57,576.62 328.82,576.62" fill="#aa002c"/>
<polygon points="330.20,582.68 331.57,580.07 328.82,580.07" fill="#aa002c"/>
<polygon points="330.20,590.24 331.57,587.63 328.82,587.63" fill="#aa002c"/>
<polygon points="330.20,598.86 331.57,596.25 328.82,596.25" fill="#aa002c"/>
<polygon points="324.89,572.33 326.27,569.72 323.52,569.72" fill="#aa002c"/>
<polygon points="335.51,572.33 336.88,569.72 334.13,569.72" fill="#aa002c"/>
<line x1="324.00" y1="570.77" x2="336.40" y2="570.77" stroke="#111" stroke-width="1.3" />
<line x1="366.00" y1="525.20" x2="366.00" y2="620.80" stroke="#222" stroke-width="1.2" />
<line x1="365.40" y1="620.20" x2="434.50" y2="620.20" stroke="#222" stroke-width="1.2" />
<line x1="363.00" y1="620.20" x2="366.00" y2="620.20" stroke="#222" stroke-width="0.9" />
<text x="359.80" y="622.40" font-size="6.2" text-anchor="end" fill="#444" >1</text>
<line x1="363.00" y1="573.75" x2="366.00" y2="573.75" stroke="#222" stroke-width="0.9" />
<text x="359.80" y="575.95" font-size="6.2" text-anchor="end" fill="#444" >10</text>
<line x1="363.00" y1="527.30" x2="366.00" y2="527.30" stroke="#222" stroke-width="0.9" />
<text x="359.80" y="529.50" font-size="6.2" text-anchor="end" fill="#444" >100</text>
<line x1="364.20" y1="606.22" x2="366.00" y2="606.22" stroke="#222" stroke-width="0.6" />
<line x1="364.20" y1="598.04" x2="366.00" y2="598.04" stroke="#222" stroke-width="0.6" />
<line x1="364.20" y1="592.23" x2="366.00" y2="592.23" stroke="#222" stroke-width="0.6" />
<line x1="364.20" y1="587.73" x2="366.00" y2="587.73" stroke="#222" stroke-width="0.6" />
<line x1="364.20" y1="584.05" x2="366.00" y2="584.05" stroke="#222" stroke-width="0.6" />
<line x1="364.20" y1="580.95" x2="366.00" y2="580.95" stroke="#222" stroke-width="0.6" />
<line x1="364.20" y1="578.25" x2="366.00" y2="578.25" stroke="#222" stroke-width="0.6" />
<line x1="364.20" y1="575.88" x2="366.00" y2="575.88" stroke="#222" stroke-width="0.6" />
<line x1="364.20" y1="559.77" x2="366.00" y2="559.77" stroke="#222" stroke-width="0.6" />
<line x1="364.20" y1="551.59" x2="366.00" y2="551.59" stroke="#222" stroke-width="0.6" />
<line x1="364.20" y1="545.78" x2="366.00" y2="545.78" stroke="#222" stroke-width="0.6" />
<line x1="364.20" y1="541.28" x2="366.00" y2="541.28" stroke="#222" stroke-width="0.6" />
<line x1="364.20" y1="537.60" x2="366.00" y2="537.60" stroke="#222" stroke-width="0.6" />
<line x1="364.20" y1="534.50" x2="366.00" y2="534.50" stroke="#222" stroke-width="0.6" />
<line x1="364.20" y1="531.80" x2="366.00" y2="531.80" stroke="#222" stroke-width="0.6" />
<line x1="364.20" y1="529.43" x2="366.00" y2="529.43" stroke="#222" stroke-width="0.6" />
<line x1="374.60" y1="620.20" x2="374.60" y2="622.60" stroke="#222" stroke-width="0.9" />
<text x="374.60" y="632.40" font-size="6.3" text-anchor="middle" fill="#444" >D0</text>
<line x1="391.60" y1="620.20" x2="391.60" y2="622.60" stroke="#222" stroke-width="0.9" />
<text x="391.60" y="632.40" font-size="6.3" text-anchor="middle" fill="#444" >D7</text>
<line x1="408.60" y1="620.20" x2="408.60" y2="622.60" stroke="#222" stroke-width="0.9" />
<text x="408.60" y="632.40" font-size="6.3" text-anchor="middle" fill="#444" >D28</text>
<line x1="425.70" y1="620.20" x2="425.70" y2="622.60" stroke="#222" stroke-width="0.9" />
<text x="425.70" y="632.40" font-size="6.3" text-anchor="middle" fill="#444" >end</text>
<circle cx="373.86" cy="530.61" r="1.25" fill="#aa002c"/>
<circle cx="372.46" cy="532.01" r="1.25" fill="#aa002c"/>
<circle cx="375.18" cy="531.63" r="1.25" fill="#aa002c"/>
<circle cx="371.68" cy="533.57" r="1.25" fill="#aa002c"/>
<circle cx="374.02" cy="533.18" r="1.25" fill="#aa002c"/>
<circle cx="376.35" cy="533.57" r="1.25" fill="#aa002c"/>
<circle cx="370.51" cy="535.13" r="1.25" fill="#aa002c"/>
<circle cx="372.85" cy="534.74" r="1.25" fill="#aa002c"/>
<circle cx="375.18" cy="535.13" r="1.25" fill="#aa002c"/>
<circle cx="377.52" cy="535.52" r="1.25" fill="#aa002c"/>
<circle cx="369.73" cy="536.69" r="1.25" fill="#aa002c"/>
<circle cx="372.07" cy="536.54" r="1.25" fill="#aa002c"/>
<circle cx="374.41" cy="536.69" r="1.25" fill="#aa002c"/>
<circle cx="376.74" cy="537.08" r="1.25" fill="#aa002c"/>
<circle cx="378.69" cy="537.08" r="1.25" fill="#aa002c"/>
<circle cx="373.24" cy="539.81" r="1.25" fill="#aa002c"/>
<circle cx="375.57" cy="540.20" r="1.25" fill="#aa002c"/>
<circle cx="370.12" cy="543.32" r="1.25" fill="#aa002c"/>
<circle cx="372.07" cy="543.71" r="1.25" fill="#aa002c"/>
<circle cx="374.02" cy="544.10" r="1.25" fill="#aa002c"/>
<circle cx="375.96" cy="543.71" r="1.25" fill="#aa002c"/>
<circle cx="377.91" cy="543.55" r="1.25" fill="#aa002c"/>
<circle cx="371.29" cy="545.42" r="1.25" fill="#aa002c"/>
<circle cx="373.63" cy="545.89" r="1.25" fill="#aa002c"/>
<circle cx="376.35" cy="545.27" r="1.25" fill="#aa002c"/>
<circle cx="372.46" cy="551.50" r="1.25" fill="#aa002c"/>
<circle cx="375.96" cy="549.94" r="1.25" fill="#aa002c"/>
<circle cx="374.02" cy="556.02" r="1.25" fill="#aa002c"/>
<circle cx="373.86" cy="565.53" r="1.25" fill="#aa002c"/>
<circle cx="369.34" cy="538.41" r="1.25" fill="#aa002c"/>
<circle cx="379.86" cy="538.41" r="1.25" fill="#aa002c"/>
<line x1="368.40" y1="538.41" x2="380.80" y2="538.41" stroke="#111" stroke-width="1.3" />
<rect x="390.50" y="529.20" width="2.20" height="2.20" fill="#aa002c"/>
<rect x="388.94" y="532.47" width="2.20" height="2.20" fill="#aa002c"/>
<rect x="392.06" y="532.86" width="2.20" height="2.20" fill="#aa002c"/>
<rect x="388.94" y="534.42" width="2.20" height="2.20" fill="#aa002c"/>
<rect x="392.06" y="534.81" width="2.20" height="2.20" fill="#aa002c"/>
<rect x="388.94" y="536.37" width="2.20" height="2.20" fill="#aa002c"/>
<rect x="392.06" y="536.37" width="2.20" height="2.20" fill="#aa002c"/>
<rect x="386.99" y="539.49" width="2.20" height="2.20" fill="#aa002c"/>
<rect x="388.94" y="539.88" width="2.20" height="2.20" fill="#aa002c"/>
<rect x="390.89" y="539.49" width="2.20" height="2.20" fill="#aa002c"/>
<rect x="393.23" y="539.88" width="2.20" height="2.20" fill="#aa002c"/>
<rect x="388.16" y="543.00" width="2.20" height="2.20" fill="#aa002c"/>
<rect x="390.50" y="543.23" width="2.20" height="2.20" fill="#aa002c"/>
<rect x="392.45" y="543.39" width="2.20" height="2.20" fill="#aa002c"/>
<rect x="386.60" y="546.50" width="2.20" height="2.20" fill="#aa002c"/>
<rect x="388.94" y="546.89" width="2.20" height="2.20" fill="#aa002c"/>
<rect x="390.89" y="547.28" width="2.20" height="2.20" fill="#aa002c"/>
<rect x="394.01" y="546.89" width="2.20" height="2.20" fill="#aa002c"/>
<rect x="386.99" y="548.06" width="2.20" height="2.20" fill="#aa002c"/>
<rect x="394.01" y="549.62" width="2.20" height="2.20" fill="#aa002c"/>
<rect x="390.50" y="550.40" width="2.20" height="2.20" fill="#aa002c"/>
<rect x="388.94" y="554.45" width="2.20" height="2.20" fill="#aa002c"/>
<rect x="392.06" y="556.01" width="2.20" height="2.20" fill="#aa002c"/>
<rect x="390.50" y="559.36" width="2.20" height="2.20" fill="#aa002c"/>
<rect x="390.50" y="562.48" width="2.20" height="2.20" fill="#aa002c"/>
<rect x="390.50" y="570.67" width="2.20" height="2.20" fill="#aa002c"/>
<rect x="385.04" y="541.98" width="2.20" height="2.20" fill="#aa002c"/>
<rect x="395.96" y="541.98" width="2.20" height="2.20" fill="#aa002c"/>
<line x1="385.40" y1="543.08" x2="397.80" y2="543.08" stroke="#111" stroke-width="1.3" />
<polygon points="406.54,537.63 407.92,540.25 405.17,540.25" fill="#aa002c"/>
<polygon points="410.52,537.10 411.90,539.72 409.15,539.72" fill="#aa002c"/>
<polygon points="408.27,539.36 409.64,541.97 406.89,541.97" fill="#aa002c"/>
<polygon points="404.95,540.29 406.33,542.90 403.58,542.90" fill="#aa002c"/>
<polygon points="411.58,540.29 412.96,542.90 410.21,542.90" fill="#aa002c"/>
<polygon points="408.27,541.35 409.64,543.96 406.89,543.96" fill="#aa002c"/>
<polygon points="406.54,542.67 407.92,545.29 405.17,545.29" fill="#aa002c"/>
<polygon points="410.52,542.67 411.90,545.29 409.15,545.29" fill="#aa002c"/>
<polygon points="404.95,544.00 406.33,546.61 403.58,546.61" fill="#aa002c"/>
<polygon points="408.27,544.66 409.64,547.28 406.89,547.28" fill="#aa002c"/>
<polygon points="411.58,544.27 412.96,546.88 410.21,546.88" fill="#aa002c"/>
<polygon points="406.54,545.59 407.92,548.20 405.17,548.20" fill="#aa002c"/>
<polygon points="410.26,545.99 411.63,548.60 408.88,548.60" fill="#aa002c"/>
<polygon points="408.27,547.71 409.64,550.33 406.89,550.33" fill="#aa002c"/>
<polygon points="406.54,551.29 407.92,553.91 405.17,553.91" fill="#aa002c"/>
<polygon points="410.26,553.02 411.63,555.63 408.88,555.63" fill="#aa002c"/>
<polygon points="408.27,553.28 409.64,555.90 406.89,555.90" fill="#aa002c"/>
<polygon points="404.69,555.27 406.06,557.89 403.31,557.89" fill="#aa002c"/>
<polygon points="411.58,555.27 412.96,557.89 410.21,557.89" fill="#aa002c"/>
<polygon points="408.27,556.20 409.64,558.81 406.89,558.81" fill="#aa002c"/>
<polygon points="406.54,558.32 407.92,560.94 405.17,560.94" fill="#aa002c"/>
<polygon points="410.52,560.98 411.90,563.59 409.15,563.59" fill="#aa002c"/>
<polygon points="408.67,569.20 410.04,571.81 407.29,571.81" fill="#aa002c"/>
<polygon points="408.67,574.24 410.04,576.85 407.29,576.85" fill="#aa002c"/>
<polygon points="408.67,591.75 410.04,594.36 407.29,594.36" fill="#aa002c"/>
<polygon points="402.96,549.31 404.34,551.92 401.59,551.92" fill="#aa002c"/>
<polygon points="414.24,549.31 415.61,551.92 412.86,551.92" fill="#aa002c"/>
<line x1="402.40" y1="550.87" x2="414.80" y2="550.87" stroke="#111" stroke-width="1.3" />
<polygon points="422.38,534.54 423.76,531.92 421.01,531.92" fill="#aa002c"/>
<polygon points="429.28,534.93 430.66,532.32 427.91,532.32" fill="#aa002c"/>
<polygon points="425.70,537.19 427.07,534.58 424.32,534.58" fill="#aa002c"/>
<polygon points="423.71,539.44 425.09,536.83 422.34,536.83" fill="#aa002c"/>
<polygon points="427.42,539.18 428.80,536.57 426.05,536.57" fill="#aa002c"/>
<polygon points="422.12,541.56 423.49,538.95 420.74,538.95" fill="#aa002c"/>
<polygon points="425.70,541.17 427.07,538.55 424.32,538.55" fill="#aa002c"/>
<polygon points="429.28,541.17 430.66,538.55 427.91,538.55" fill="#aa002c"/>
<polygon points="427.42,543.16 428.80,540.54 426.05,540.54" fill="#aa002c"/>
<polygon points="423.71,544.22 425.09,541.60 422.34,541.60" fill="#aa002c"/>
<polygon points="429.28,544.75 430.66,542.14 427.91,542.14" fill="#aa002c"/>
<polygon points="425.70,545.81 427.07,543.20 424.32,543.20" fill="#aa002c"/>
<polygon points="423.71,551.11 425.09,548.50 422.34,548.50" fill="#aa002c"/>
<polygon points="427.42,550.45 428.80,547.84 426.05,547.84" fill="#aa002c"/>
<polygon points="423.98,554.43 425.35,551.82 422.60,551.82" fill="#aa002c"/>
<polygon points="427.42,555.09 428.80,552.48 426.05,552.48" fill="#aa002c"/>
<polygon points="422.65,557.48 424.02,554.87 421.27,554.87" fill="#aa002c"/>
<polygon points="425.70,559.73 427.07,557.12 424.32,557.12" fill="#aa002c"/>
<polygon points="429.28,558.41 430.66,555.80 427.91,555.80" fill="#aa002c"/>
<polygon points="423.98,565.04 425.35,562.43 422.60,562.43" fill="#aa002c"/>
<polygon points="427.42,565.44 428.80,562.83 426.05,562.83" fill="#aa002c"/>
<polygon points="423.71,569.02 425.09,566.41 422.34,566.41" fill="#aa002c"/>
<polygon points="427.42,568.36 428.80,565.74 426.05,565.74" fill="#aa002c"/>
<polygon points="425.70,579.23 427.07,576.62 424.32,576.62" fill="#aa002c"/>
<polygon points="425.70,584.27 427.07,581.66 424.32,581.66" fill="#aa002c"/>
<polygon points="420.39,547.80 421.77,545.19 419.02,545.19" fill="#aa002c"/>
<polygon points="431.01,547.80 432.38,545.19 429.63,545.19" fill="#aa002c"/>
<line x1="419.50" y1="546.23" x2="431.90" y2="546.23" stroke="#111" stroke-width="1.3" />
<text x="0.00" y="0.00" font-size="8.3" text-anchor="middle" fill="#111" textLength="44.60" lengthAdjust="spacingAndGlyphs" transform="translate(56.1,448.5) rotate(-90)">% of CD4 T cells</text>
<text x="0.00" y="0.00" font-size="8.3" text-anchor="middle" fill="#111" textLength="44.60" lengthAdjust="spacingAndGlyphs" transform="translate(56.1,572.5) rotate(-90)">% of CD8 T cells</text>
<polyline points="87.10,393.10 87.10,390.25 139.40,390.25 139.40,393.10" fill="none" stroke="#3f5e9c" stroke-width="1.0"/>
<circle cx="113.10" cy="386.90" r="0.85" fill="#3f5e9c"/>
<polyline points="86.50,402.25 86.50,399.00 106.50,399.00 106.50,402.25" fill="none" stroke="#3f5e9c" stroke-width="1.0"/>
<circle cx="94.15" cy="395.60" r="0.85" fill="#3f5e9c"/>
<circle cx="96.75" cy="395.60" r="0.85" fill="#3f5e9c"/>
<circle cx="99.35" cy="395.60" r="0.85" fill="#3f5e9c"/>
<polyline points="183.30,392.70 183.30,389.20 227.70,389.20 227.70,398.60" fill="none" stroke="#3f5e9c" stroke-width="1"/>
<line x1="218.40" y1="398.60" x2="235.90" y2="398.60" stroke="#3f5e9c" stroke-width="1" />
<circle cx="204.20" cy="385.70" r="0.85" fill="#3f5e9c"/>
<circle cx="206.80" cy="385.70" r="0.85" fill="#3f5e9c"/>
<polyline points="183.30,402.10 183.30,398.60 201.30,398.60 201.30,402.10" fill="none" stroke="#3f5e9c" stroke-width="1.0"/>
<circle cx="189.40" cy="395.60" r="0.85" fill="#3f5e9c"/>
<circle cx="192.00" cy="395.60" r="0.85" fill="#3f5e9c"/>
<circle cx="194.60" cy="395.60" r="0.85" fill="#3f5e9c"/>
<polyline points="278.20,399.60 278.20,396.50 296.30,396.50 296.30,399.60" fill="none" stroke="#3f5e9c" stroke-width="1.0"/>
<circle cx="284.60" cy="393.20" r="0.85" fill="#3f5e9c"/>
<circle cx="287.20" cy="393.20" r="0.85" fill="#3f5e9c"/>
<circle cx="289.80" cy="393.20" r="0.85" fill="#3f5e9c"/>
<polyline points="374.40,402.60 374.40,399.30 418.20,399.30 418.20,409.60" fill="none" stroke="#3f5e9c" stroke-width="1"/>
<line x1="409.30" y1="409.60" x2="426.30" y2="409.60" stroke="#3f5e9c" stroke-width="1" />
<circle cx="393.30" cy="395.80" r="0.85" fill="#3f5e9c"/>
<circle cx="395.90" cy="395.80" r="0.85" fill="#3f5e9c"/>
<circle cx="398.50" cy="395.80" r="0.85" fill="#3f5e9c"/>
<polyline points="87.00,518.00 87.00,515.00 131.70,515.00 131.70,524.80" fill="none" stroke="#3f5e9c" stroke-width="1"/>
<line x1="123.00" y1="524.80" x2="138.00" y2="524.80" stroke="#3f5e9c" stroke-width="1" />
<circle cx="106.40" cy="511.20" r="0.85" fill="#3f5e9c"/>
<circle cx="109.00" cy="511.20" r="0.85" fill="#3f5e9c"/>
<circle cx="111.60" cy="511.20" r="0.85" fill="#3f5e9c"/>
<polyline points="87.00,527.30 87.00,524.20 105.50,524.20 105.50,527.30" fill="none" stroke="#3f5e9c" stroke-width="1.0"/>
<circle cx="93.40" cy="520.40" r="0.85" fill="#3f5e9c"/>
<circle cx="96.00" cy="520.40" r="0.85" fill="#3f5e9c"/>
<circle cx="98.60" cy="520.40" r="0.85" fill="#3f5e9c"/>
<polyline points="183.20,518.60 183.20,515.60 227.00,515.60 227.00,524.20" fill="none" stroke="#3f5e9c" stroke-width="1"/>
<line x1="217.70" y1="524.20" x2="235.50" y2="524.20" stroke="#3f5e9c" stroke-width="1" />
<circle cx="202.20" cy="512.00" r="0.85" fill="#3f5e9c"/>
<circle cx="204.80" cy="512.00" r="0.85" fill="#3f5e9c"/>
<circle cx="207.40" cy="512.00" r="0.85" fill="#3f5e9c"/>
<polyline points="183.20,526.70 183.20,523.60 203.20,523.60 203.20,526.70" fill="none" stroke="#3f5e9c" stroke-width="1.0"/>
<circle cx="188.90" cy="520.20" r="0.85" fill="#3f5e9c"/>
<circle cx="191.50" cy="520.20" r="0.85" fill="#3f5e9c"/>
<circle cx="194.10" cy="520.20" r="0.85" fill="#3f5e9c"/>
<polyline points="277.50,519.60 277.50,516.50 311.40,516.50 311.40,519.60" fill="none" stroke="#3f5e9c" stroke-width="1.0"/>
<circle cx="293.20" cy="512.80" r="0.85" fill="#3f5e9c"/>
<circle cx="295.80" cy="512.80" r="0.85" fill="#3f5e9c"/>
<polyline points="277.50,527.60 277.50,524.80 297.00,524.80 297.00,527.60" fill="none" stroke="#3f5e9c" stroke-width="1.0"/>
<circle cx="284.40" cy="521.20" r="0.85" fill="#3f5e9c"/>
<circle cx="287.00" cy="521.20" r="0.85" fill="#3f5e9c"/>
<circle cx="289.60" cy="521.20" r="0.85" fill="#3f5e9c"/>
<polyline points="374.50,519.60 374.50,516.50 408.30,516.50 408.30,523.60" fill="none" stroke="#3f5e9c" stroke-width="1"/>
<line x1="392.30" y1="523.60" x2="426.20" y2="523.60" stroke="#3f5e9c" stroke-width="1" />
<circle cx="388.80" cy="513.50" r="0.85" fill="#3f5e9c"/>
<circle cx="391.40" cy="513.50" r="0.85" fill="#3f5e9c"/>
<circle cx="394.00" cy="513.50" r="0.85" fill="#3f5e9c"/>
<rect x="0.6" y="0.6" width="518.8" height="639.8" fill="none" stroke="#111" stroke-width="1.3"/>
</svg>
</body></html>
